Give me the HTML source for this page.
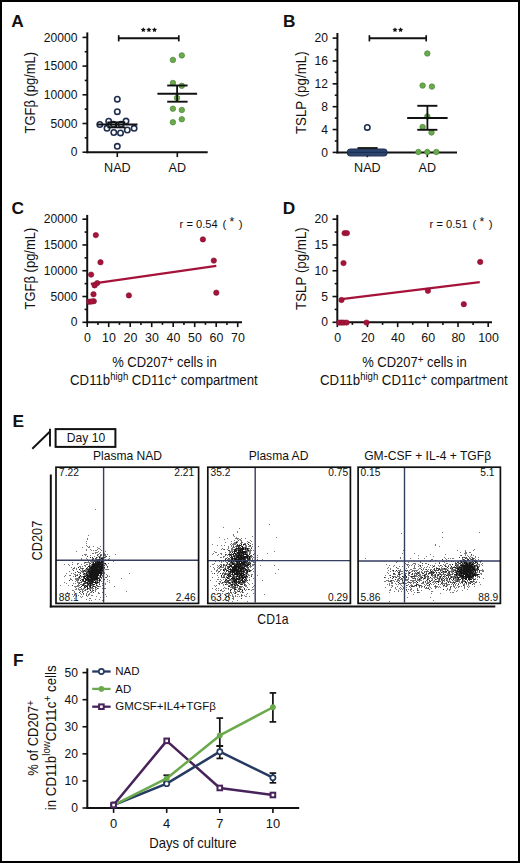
<!DOCTYPE html>
<html><head><meta charset="utf-8"><style>
html,body{margin:0;padding:0;background:#fff;}
body{width:520px;height:863px;overflow:hidden;}
svg{display:block;font-family:"Liberation Sans",sans-serif;}
</style></head><body>
<svg width="520" height="863" viewBox="0 0 520 863">
<rect x="0" y="0" width="520" height="863" fill="#fff"/>
<text transform="translate(11.30 27.20)" font-size="17.3" font-weight="bold" fill="#111">A</text>
<text transform="translate(283.00 27.10)" font-size="17.3" font-weight="bold" fill="#111">B</text>
<text transform="translate(11.50 213.60)" font-size="17.3" font-weight="bold" fill="#111">C</text>
<text transform="translate(282.80 213.60)" font-size="17.3" font-weight="bold" fill="#111">D</text>
<text transform="translate(12.60 427.20)" font-size="17.3" font-weight="bold" fill="#111">E</text>
<text transform="translate(13.00 666.30)" font-size="17.3" font-weight="bold" fill="#111">F</text>
<line x1="87.30" y1="32.40" x2="87.30" y2="153.20" stroke="#111" stroke-width="2.0"/>
<line x1="82.50" y1="152.20" x2="87.30" y2="152.20" stroke="#111" stroke-width="1.6"/>
<text transform="translate(77.50 156.36)" font-size="12.1" text-anchor="end" fill="#111">0</text>
<line x1="82.50" y1="123.50" x2="87.30" y2="123.50" stroke="#111" stroke-width="1.6"/>
<text transform="translate(77.50 127.66)" font-size="12.1" text-anchor="end" fill="#111">5000</text>
<line x1="82.50" y1="94.80" x2="87.30" y2="94.80" stroke="#111" stroke-width="1.6"/>
<text transform="translate(77.50 98.96)" font-size="12.1" text-anchor="end" fill="#111">10000</text>
<line x1="82.50" y1="66.10" x2="87.30" y2="66.10" stroke="#111" stroke-width="1.6"/>
<text transform="translate(77.50 70.26)" font-size="12.1" text-anchor="end" fill="#111">15000</text>
<line x1="82.50" y1="37.40" x2="87.30" y2="37.40" stroke="#111" stroke-width="1.6"/>
<text transform="translate(77.50 41.56)" font-size="12.1" text-anchor="end" fill="#111">20000</text>
<line x1="84.70" y1="137.85" x2="87.30" y2="137.85" stroke="#111" stroke-width="1.6"/>
<line x1="84.70" y1="109.15" x2="87.30" y2="109.15" stroke="#111" stroke-width="1.6"/>
<line x1="84.70" y1="80.45" x2="87.30" y2="80.45" stroke="#111" stroke-width="1.6"/>
<line x1="84.70" y1="51.75" x2="87.30" y2="51.75" stroke="#111" stroke-width="1.6"/>
<line x1="86.30" y1="152.20" x2="207.70" y2="152.20" stroke="#111" stroke-width="2.0"/>
<line x1="117.30" y1="152.20" x2="117.30" y2="157.00" stroke="#111" stroke-width="1.6"/>
<line x1="177.30" y1="152.20" x2="177.30" y2="157.00" stroke="#111" stroke-width="1.6"/>
<text transform="translate(117.40 172.20)" font-size="12.6" text-anchor="middle" fill="#111">NAD</text>
<text transform="translate(177.30 172.20)" font-size="12.6" text-anchor="middle" fill="#111">AD</text>
<text transform="translate(34.70 92.70) rotate(-90) scale(0.895 1)" font-size="14.5" text-anchor="middle" fill="#111">TGFβ (pg/mL)</text>
<line x1="118.70" y1="38.30" x2="178.80" y2="38.30" stroke="#111" stroke-width="1.9"/>
<line x1="118.70" y1="35.20" x2="118.70" y2="41.40" stroke="#111" stroke-width="1.7"/>
<line x1="178.80" y1="35.20" x2="178.80" y2="41.40" stroke="#111" stroke-width="1.7"/>
<polygon points="143.30,27.15 144.06,28.85 145.92,29.05 144.54,30.30 144.92,32.12 143.30,31.20 141.68,32.12 142.06,30.30 140.68,29.05 142.54,28.85" fill="#111"/>
<polygon points="148.90,27.15 149.66,28.85 151.52,29.05 150.14,30.30 150.52,32.12 148.90,31.20 147.28,32.12 147.66,30.30 146.28,29.05 148.14,28.85" fill="#111"/>
<polygon points="154.50,27.15 155.26,28.85 157.12,29.05 155.74,30.30 156.12,32.12 154.50,31.20 152.88,32.12 153.26,30.30 151.88,29.05 153.74,28.85" fill="#111"/>
<circle cx="117.30" cy="99.20" r="2.7" fill="#fff" stroke="#1f2e50" stroke-width="1.6"/>
<circle cx="117.30" cy="111.70" r="2.7" fill="#fff" stroke="#1f2e50" stroke-width="1.6"/>
<circle cx="108.70" cy="121.20" r="2.7" fill="#fff" stroke="#1f2e50" stroke-width="1.6"/>
<circle cx="126.00" cy="121.10" r="2.7" fill="#fff" stroke="#1f2e50" stroke-width="1.6"/>
<circle cx="99.80" cy="124.50" r="2.7" fill="#fff" stroke="#1f2e50" stroke-width="1.6"/>
<circle cx="107.00" cy="128.30" r="2.7" fill="#fff" stroke="#1f2e50" stroke-width="1.6"/>
<circle cx="113.80" cy="132.50" r="2.7" fill="#fff" stroke="#1f2e50" stroke-width="1.6"/>
<circle cx="120.50" cy="132.90" r="2.7" fill="#fff" stroke="#1f2e50" stroke-width="1.6"/>
<circle cx="127.30" cy="130.00" r="2.7" fill="#fff" stroke="#1f2e50" stroke-width="1.6"/>
<circle cx="134.10" cy="128.30" r="2.7" fill="#fff" stroke="#1f2e50" stroke-width="1.6"/>
<circle cx="117.30" cy="146.30" r="2.7" fill="#fff" stroke="#1f2e50" stroke-width="1.6"/>
<circle cx="113.50" cy="124.30" r="2.7" fill="#fff" stroke="#1f2e50" stroke-width="1.6"/>
<circle cx="121.00" cy="124.30" r="2.7" fill="#fff" stroke="#1f2e50" stroke-width="1.6"/>
<line x1="97.30" y1="124.50" x2="137.50" y2="124.50" stroke="#111" stroke-width="2.0"/>
<line x1="107.40" y1="122.30" x2="125.20" y2="122.30" stroke="#111" stroke-width="1.8"/>
<line x1="107.40" y1="127.40" x2="125.20" y2="127.40" stroke="#111" stroke-width="1.8"/>
<line x1="116.30" y1="122.30" x2="116.30" y2="127.40" stroke="#111" stroke-width="1.6"/>
<circle cx="172.90" cy="59.90" r="2.75" fill="#6aaa4c" stroke="#4a8535" stroke-width="0.7"/>
<circle cx="181.80" cy="55.40" r="2.75" fill="#6aaa4c" stroke="#4a8535" stroke-width="0.7"/>
<circle cx="172.90" cy="83.00" r="2.75" fill="#6aaa4c" stroke="#4a8535" stroke-width="0.7"/>
<circle cx="181.80" cy="85.80" r="2.75" fill="#6aaa4c" stroke="#4a8535" stroke-width="0.7"/>
<circle cx="177.00" cy="97.90" r="2.75" fill="#6aaa4c" stroke="#4a8535" stroke-width="0.7"/>
<circle cx="172.90" cy="108.70" r="2.75" fill="#6aaa4c" stroke="#4a8535" stroke-width="0.7"/>
<circle cx="181.80" cy="110.00" r="2.75" fill="#6aaa4c" stroke="#4a8535" stroke-width="0.7"/>
<circle cx="172.90" cy="122.30" r="2.75" fill="#6aaa4c" stroke="#4a8535" stroke-width="0.7"/>
<circle cx="181.80" cy="119.30" r="2.75" fill="#6aaa4c" stroke="#4a8535" stroke-width="0.7"/>
<line x1="157.40" y1="93.80" x2="197.10" y2="93.80" stroke="#111" stroke-width="2.0"/>
<line x1="167.20" y1="85.50" x2="187.60" y2="85.50" stroke="#111" stroke-width="1.9"/>
<line x1="167.20" y1="101.70" x2="187.60" y2="101.70" stroke="#111" stroke-width="1.9"/>
<line x1="177.10" y1="85.50" x2="177.10" y2="101.70" stroke="#111" stroke-width="1.8"/>
<line x1="337.40" y1="33.00" x2="337.40" y2="153.40" stroke="#111" stroke-width="2.0"/>
<line x1="332.60" y1="152.40" x2="337.40" y2="152.40" stroke="#111" stroke-width="1.6"/>
<text transform="translate(327.90 156.56)" font-size="12.1" text-anchor="end" fill="#111">0</text>
<line x1="332.60" y1="129.54" x2="337.40" y2="129.54" stroke="#111" stroke-width="1.6"/>
<text transform="translate(327.90 133.70)" font-size="12.1" text-anchor="end" fill="#111">4</text>
<line x1="332.60" y1="106.68" x2="337.40" y2="106.68" stroke="#111" stroke-width="1.6"/>
<text transform="translate(327.90 110.84)" font-size="12.1" text-anchor="end" fill="#111">8</text>
<line x1="332.60" y1="83.82" x2="337.40" y2="83.82" stroke="#111" stroke-width="1.6"/>
<text transform="translate(327.90 87.98)" font-size="12.1" text-anchor="end" fill="#111">12</text>
<line x1="332.60" y1="60.96" x2="337.40" y2="60.96" stroke="#111" stroke-width="1.6"/>
<text transform="translate(327.90 65.12)" font-size="12.1" text-anchor="end" fill="#111">16</text>
<line x1="332.60" y1="38.10" x2="337.40" y2="38.10" stroke="#111" stroke-width="1.6"/>
<text transform="translate(327.90 42.26)" font-size="12.1" text-anchor="end" fill="#111">20</text>
<line x1="334.80" y1="140.97" x2="337.40" y2="140.97" stroke="#111" stroke-width="1.6"/>
<line x1="334.80" y1="118.11" x2="337.40" y2="118.11" stroke="#111" stroke-width="1.6"/>
<line x1="334.80" y1="95.25" x2="337.40" y2="95.25" stroke="#111" stroke-width="1.6"/>
<line x1="334.80" y1="72.39" x2="337.40" y2="72.39" stroke="#111" stroke-width="1.6"/>
<line x1="334.80" y1="49.53" x2="337.40" y2="49.53" stroke="#111" stroke-width="1.6"/>
<line x1="336.40" y1="152.40" x2="457.00" y2="152.40" stroke="#111" stroke-width="2.0"/>
<line x1="367.30" y1="152.40" x2="367.30" y2="157.20" stroke="#111" stroke-width="1.6"/>
<line x1="427.30" y1="152.40" x2="427.30" y2="157.20" stroke="#111" stroke-width="1.6"/>
<text transform="translate(367.40 172.20)" font-size="12.6" text-anchor="middle" fill="#111">NAD</text>
<text transform="translate(427.30 172.20)" font-size="12.6" text-anchor="middle" fill="#111">AD</text>
<text transform="translate(305.60 92.75) rotate(-90) scale(0.920 1)" font-size="14.5" text-anchor="middle" fill="#111">TSLP (pg/mL)</text>
<line x1="369.40" y1="38.30" x2="426.20" y2="38.30" stroke="#111" stroke-width="1.9"/>
<line x1="369.40" y1="35.20" x2="369.40" y2="41.40" stroke="#111" stroke-width="1.7"/>
<line x1="426.20" y1="35.20" x2="426.20" y2="41.40" stroke="#111" stroke-width="1.7"/>
<polygon points="395.00,27.15 395.76,28.85 397.62,29.05 396.24,30.30 396.62,32.12 395.00,31.20 393.38,32.12 393.76,30.30 392.38,29.05 394.24,28.85" fill="#111"/>
<polygon points="400.60,27.15 401.36,28.85 403.22,29.05 401.84,30.30 402.22,32.12 400.60,31.20 398.98,32.12 399.36,30.30 397.98,29.05 399.84,28.85" fill="#111"/>
<circle cx="367.30" cy="127.40" r="2.7" fill="#fff" stroke="#1f2e50" stroke-width="1.6"/>
<rect x="347.4" y="149.0" width="39.6" height="6.8" rx="3.4" fill="#2c4470" stroke="#1f2e50" stroke-width="1.2"/>
<line x1="348.50" y1="152.40" x2="386.00" y2="152.40" stroke="#1b2f52" stroke-width="1.2"/>
<line x1="357.50" y1="148.00" x2="377.60" y2="148.00" stroke="#111" stroke-width="1.8"/>
<circle cx="427.30" cy="53.50" r="2.75" fill="#6aaa4c" stroke="#4a8535" stroke-width="0.7"/>
<circle cx="422.60" cy="85.60" r="2.75" fill="#6aaa4c" stroke="#4a8535" stroke-width="0.7"/>
<circle cx="431.90" cy="86.60" r="2.75" fill="#6aaa4c" stroke="#4a8535" stroke-width="0.7"/>
<circle cx="427.30" cy="116.50" r="2.75" fill="#6aaa4c" stroke="#4a8535" stroke-width="0.7"/>
<circle cx="422.60" cy="127.00" r="2.75" fill="#6aaa4c" stroke="#4a8535" stroke-width="0.7"/>
<circle cx="431.50" cy="132.50" r="2.75" fill="#6aaa4c" stroke="#4a8535" stroke-width="0.7"/>
<circle cx="418.40" cy="152.00" r="2.75" fill="#6aaa4c" stroke="#4a8535" stroke-width="0.7"/>
<circle cx="427.30" cy="152.00" r="2.75" fill="#6aaa4c" stroke="#4a8535" stroke-width="0.7"/>
<circle cx="436.30" cy="152.00" r="2.75" fill="#6aaa4c" stroke="#4a8535" stroke-width="0.7"/>
<line x1="407.20" y1="117.90" x2="447.60" y2="117.90" stroke="#111" stroke-width="2.0"/>
<line x1="417.30" y1="105.80" x2="437.40" y2="105.80" stroke="#111" stroke-width="1.9"/>
<line x1="417.30" y1="129.80" x2="437.40" y2="129.80" stroke="#111" stroke-width="1.9"/>
<line x1="427.40" y1="105.80" x2="427.40" y2="129.80" stroke="#111" stroke-width="1.8"/>
<line x1="87.20" y1="214.90" x2="87.20" y2="323.30" stroke="#111" stroke-width="2.0"/>
<line x1="82.40" y1="322.30" x2="87.20" y2="322.30" stroke="#111" stroke-width="1.6"/>
<text transform="translate(77.50 326.46)" font-size="12.1" text-anchor="end" fill="#111">0</text>
<line x1="82.40" y1="296.52" x2="87.20" y2="296.52" stroke="#111" stroke-width="1.6"/>
<text transform="translate(77.50 300.68)" font-size="12.1" text-anchor="end" fill="#111">5000</text>
<line x1="82.40" y1="270.74" x2="87.20" y2="270.74" stroke="#111" stroke-width="1.6"/>
<text transform="translate(77.50 274.90)" font-size="12.1" text-anchor="end" fill="#111">10000</text>
<line x1="82.40" y1="244.96" x2="87.20" y2="244.96" stroke="#111" stroke-width="1.6"/>
<text transform="translate(77.50 249.12)" font-size="12.1" text-anchor="end" fill="#111">15000</text>
<line x1="82.40" y1="219.18" x2="87.20" y2="219.18" stroke="#111" stroke-width="1.6"/>
<text transform="translate(77.50 223.34)" font-size="12.1" text-anchor="end" fill="#111">20000</text>
<line x1="84.60" y1="309.41" x2="87.20" y2="309.41" stroke="#111" stroke-width="1.6"/>
<line x1="84.60" y1="283.63" x2="87.20" y2="283.63" stroke="#111" stroke-width="1.6"/>
<line x1="84.60" y1="257.85" x2="87.20" y2="257.85" stroke="#111" stroke-width="1.6"/>
<line x1="84.60" y1="232.07" x2="87.20" y2="232.07" stroke="#111" stroke-width="1.6"/>
<line x1="86.20" y1="322.30" x2="242.00" y2="322.30" stroke="#111" stroke-width="2.0"/>
<line x1="87.20" y1="322.30" x2="87.20" y2="327.10" stroke="#111" stroke-width="1.6"/>
<text transform="translate(87.50 342.20)" font-size="12.4" text-anchor="middle" fill="#111">0</text>
<line x1="108.70" y1="322.30" x2="108.70" y2="327.10" stroke="#111" stroke-width="1.6"/>
<text transform="translate(109.00 342.20)" font-size="12.4" text-anchor="middle" fill="#111">10</text>
<line x1="130.20" y1="322.30" x2="130.20" y2="327.10" stroke="#111" stroke-width="1.6"/>
<text transform="translate(130.50 342.20)" font-size="12.4" text-anchor="middle" fill="#111">20</text>
<line x1="151.70" y1="322.30" x2="151.70" y2="327.10" stroke="#111" stroke-width="1.6"/>
<text transform="translate(152.00 342.20)" font-size="12.4" text-anchor="middle" fill="#111">30</text>
<line x1="173.20" y1="322.30" x2="173.20" y2="327.10" stroke="#111" stroke-width="1.6"/>
<text transform="translate(173.50 342.20)" font-size="12.4" text-anchor="middle" fill="#111">40</text>
<line x1="194.70" y1="322.30" x2="194.70" y2="327.10" stroke="#111" stroke-width="1.6"/>
<text transform="translate(195.00 342.20)" font-size="12.4" text-anchor="middle" fill="#111">50</text>
<line x1="216.20" y1="322.30" x2="216.20" y2="327.10" stroke="#111" stroke-width="1.6"/>
<text transform="translate(216.50 342.20)" font-size="12.4" text-anchor="middle" fill="#111">60</text>
<line x1="237.70" y1="322.30" x2="237.70" y2="327.10" stroke="#111" stroke-width="1.6"/>
<text transform="translate(238.00 342.20)" font-size="12.4" text-anchor="middle" fill="#111">70</text>
<line x1="97.95" y1="322.30" x2="97.95" y2="324.90" stroke="#111" stroke-width="1.6"/>
<line x1="119.45" y1="322.30" x2="119.45" y2="324.90" stroke="#111" stroke-width="1.6"/>
<line x1="140.95" y1="322.30" x2="140.95" y2="324.90" stroke="#111" stroke-width="1.6"/>
<line x1="162.45" y1="322.30" x2="162.45" y2="324.90" stroke="#111" stroke-width="1.6"/>
<line x1="183.95" y1="322.30" x2="183.95" y2="324.90" stroke="#111" stroke-width="1.6"/>
<line x1="205.45" y1="322.30" x2="205.45" y2="324.90" stroke="#111" stroke-width="1.6"/>
<line x1="226.95" y1="322.30" x2="226.95" y2="324.90" stroke="#111" stroke-width="1.6"/>
<text transform="translate(34.70 268.55) rotate(-90) scale(0.895 1)" font-size="14.5" text-anchor="middle" fill="#111">TGFβ (pg/mL)</text>
<text transform="translate(179.60 227.80) scale(0.970 1)" font-size="11.5" fill="#111">r = 0.54</text>
<text transform="translate(222.40 227.80)" font-size="11.5" fill="#111">(</text>
<text transform="translate(229.40 225.80)" font-size="12.2" fill="#111">*</text>
<text transform="translate(238.70 227.80)" font-size="11.5" fill="#111">)</text>
<line x1="90.80" y1="283.80" x2="216.30" y2="265.80" stroke="#a6133a" stroke-width="2.3"/>
<circle cx="95.80" cy="235.10" r="2.7" fill="#a6133a" stroke="#84102f" stroke-width="0.6"/>
<circle cx="100.50" cy="262.30" r="2.7" fill="#a6133a" stroke="#84102f" stroke-width="0.6"/>
<circle cx="91.10" cy="274.60" r="2.7" fill="#a6133a" stroke="#84102f" stroke-width="0.6"/>
<circle cx="97.20" cy="283.10" r="2.7" fill="#a6133a" stroke="#84102f" stroke-width="0.6"/>
<circle cx="94.60" cy="285.40" r="2.7" fill="#a6133a" stroke="#84102f" stroke-width="0.6"/>
<circle cx="93.50" cy="294.30" r="2.7" fill="#a6133a" stroke="#84102f" stroke-width="0.6"/>
<circle cx="128.90" cy="295.40" r="2.7" fill="#a6133a" stroke="#84102f" stroke-width="0.6"/>
<circle cx="89.20" cy="301.80" r="2.7" fill="#a6133a" stroke="#84102f" stroke-width="0.6"/>
<circle cx="93.80" cy="301.20" r="2.7" fill="#a6133a" stroke="#84102f" stroke-width="0.6"/>
<circle cx="91.50" cy="301.50" r="2.7" fill="#a6133a" stroke="#84102f" stroke-width="0.6"/>
<circle cx="202.90" cy="239.40" r="2.7" fill="#a6133a" stroke="#84102f" stroke-width="0.6"/>
<circle cx="213.80" cy="260.60" r="2.7" fill="#a6133a" stroke="#84102f" stroke-width="0.6"/>
<circle cx="216.30" cy="292.70" r="2.7" fill="#a6133a" stroke="#84102f" stroke-width="0.6"/>
<text transform="translate(164.40 367.30) scale(0.895 1)" font-size="14.5" text-anchor="middle" fill="#111">% CD207<tspan font-size="11" dy="-4.5">+</tspan><tspan dy="4.5"> cells in</tspan></text>
<text transform="translate(163.90 385.30) scale(0.910 1)" font-size="14.5" text-anchor="middle" fill="#111">CD11b<tspan font-size="10.5" dy="-5.5">high</tspan><tspan dy="5.5"> CD11c</tspan><tspan font-size="11" dy="-4.5">+</tspan><tspan dy="4.5"> compartment</tspan></text>
<line x1="337.30" y1="214.90" x2="337.30" y2="323.30" stroke="#111" stroke-width="2.0"/>
<line x1="332.50" y1="322.30" x2="337.30" y2="322.30" stroke="#111" stroke-width="1.6"/>
<text transform="translate(327.90 326.46)" font-size="12.1" text-anchor="end" fill="#111">0</text>
<line x1="332.50" y1="296.53" x2="337.30" y2="296.53" stroke="#111" stroke-width="1.6"/>
<text transform="translate(327.90 300.69)" font-size="12.1" text-anchor="end" fill="#111">5</text>
<line x1="332.50" y1="270.75" x2="337.30" y2="270.75" stroke="#111" stroke-width="1.6"/>
<text transform="translate(327.90 274.91)" font-size="12.1" text-anchor="end" fill="#111">10</text>
<line x1="332.50" y1="244.98" x2="337.30" y2="244.98" stroke="#111" stroke-width="1.6"/>
<text transform="translate(327.90 249.14)" font-size="12.1" text-anchor="end" fill="#111">15</text>
<line x1="332.50" y1="219.20" x2="337.30" y2="219.20" stroke="#111" stroke-width="1.6"/>
<text transform="translate(327.90 223.36)" font-size="12.1" text-anchor="end" fill="#111">20</text>
<line x1="334.70" y1="309.41" x2="337.30" y2="309.41" stroke="#111" stroke-width="1.6"/>
<line x1="334.70" y1="283.64" x2="337.30" y2="283.64" stroke="#111" stroke-width="1.6"/>
<line x1="334.70" y1="257.86" x2="337.30" y2="257.86" stroke="#111" stroke-width="1.6"/>
<line x1="334.70" y1="232.09" x2="337.30" y2="232.09" stroke="#111" stroke-width="1.6"/>
<line x1="336.30" y1="322.30" x2="492.00" y2="322.30" stroke="#111" stroke-width="2.0"/>
<line x1="337.30" y1="322.30" x2="337.30" y2="327.10" stroke="#111" stroke-width="1.6"/>
<text transform="translate(337.60 342.20)" font-size="12.4" text-anchor="middle" fill="#111">0</text>
<line x1="367.48" y1="322.30" x2="367.48" y2="327.10" stroke="#111" stroke-width="1.6"/>
<text transform="translate(367.78 342.20)" font-size="12.4" text-anchor="middle" fill="#111">20</text>
<line x1="397.66" y1="322.30" x2="397.66" y2="327.10" stroke="#111" stroke-width="1.6"/>
<text transform="translate(397.96 342.20)" font-size="12.4" text-anchor="middle" fill="#111">40</text>
<line x1="427.84" y1="322.30" x2="427.84" y2="327.10" stroke="#111" stroke-width="1.6"/>
<text transform="translate(428.14 342.20)" font-size="12.4" text-anchor="middle" fill="#111">60</text>
<line x1="458.02" y1="322.30" x2="458.02" y2="327.10" stroke="#111" stroke-width="1.6"/>
<text transform="translate(458.32 342.20)" font-size="12.4" text-anchor="middle" fill="#111">80</text>
<line x1="488.20" y1="322.30" x2="488.20" y2="327.10" stroke="#111" stroke-width="1.6"/>
<text transform="translate(488.50 342.20)" font-size="12.4" text-anchor="middle" fill="#111">100</text>
<line x1="352.39" y1="322.30" x2="352.39" y2="324.90" stroke="#111" stroke-width="1.6"/>
<line x1="382.57" y1="322.30" x2="382.57" y2="324.90" stroke="#111" stroke-width="1.6"/>
<line x1="412.75" y1="322.30" x2="412.75" y2="324.90" stroke="#111" stroke-width="1.6"/>
<line x1="442.93" y1="322.30" x2="442.93" y2="324.90" stroke="#111" stroke-width="1.6"/>
<line x1="473.11" y1="322.30" x2="473.11" y2="324.90" stroke="#111" stroke-width="1.6"/>
<text transform="translate(305.60 268.55) rotate(-90) scale(0.920 1)" font-size="14.5" text-anchor="middle" fill="#111">TSLP (pg/mL)</text>
<text transform="translate(429.60 227.80) scale(0.970 1)" font-size="11.5" fill="#111">r = 0.51</text>
<text transform="translate(472.40 227.80)" font-size="11.5" fill="#111">(</text>
<text transform="translate(479.60 225.80)" font-size="12.2" fill="#111">*</text>
<text transform="translate(488.70 227.80)" font-size="11.5" fill="#111">)</text>
<line x1="341.50" y1="299.20" x2="479.80" y2="282.10" stroke="#a6133a" stroke-width="2.3"/>
<circle cx="344.60" cy="233.10" r="2.7" fill="#a6133a" stroke="#84102f" stroke-width="0.6"/>
<circle cx="346.90" cy="233.10" r="2.7" fill="#a6133a" stroke="#84102f" stroke-width="0.6"/>
<circle cx="343.50" cy="263.10" r="2.7" fill="#a6133a" stroke="#84102f" stroke-width="0.6"/>
<circle cx="341.50" cy="300.00" r="2.7" fill="#a6133a" stroke="#84102f" stroke-width="0.6"/>
<circle cx="339.20" cy="322.60" r="2.7" fill="#a6133a" stroke="#84102f" stroke-width="0.6"/>
<circle cx="341.50" cy="322.60" r="2.7" fill="#a6133a" stroke="#84102f" stroke-width="0.6"/>
<circle cx="343.80" cy="322.60" r="2.7" fill="#a6133a" stroke="#84102f" stroke-width="0.6"/>
<circle cx="346.60" cy="322.60" r="2.7" fill="#a6133a" stroke="#84102f" stroke-width="0.6"/>
<circle cx="366.50" cy="322.60" r="2.7" fill="#a6133a" stroke="#84102f" stroke-width="0.6"/>
<circle cx="427.90" cy="290.80" r="2.7" fill="#a6133a" stroke="#84102f" stroke-width="0.6"/>
<circle cx="463.80" cy="304.20" r="2.7" fill="#a6133a" stroke="#84102f" stroke-width="0.6"/>
<circle cx="480.20" cy="261.90" r="2.7" fill="#a6133a" stroke="#84102f" stroke-width="0.6"/>
<text transform="translate(414.40 367.30) scale(0.895 1)" font-size="14.5" text-anchor="middle" fill="#111">% CD207<tspan font-size="11" dy="-4.5">+</tspan><tspan dy="4.5"> cells in</tspan></text>
<text transform="translate(413.90 385.30) scale(0.910 1)" font-size="14.5" text-anchor="middle" fill="#111">CD11b<tspan font-size="10.5" dy="-5.5">high</tspan><tspan dy="5.5"> CD11c</tspan><tspan font-size="11" dy="-4.5">+</tspan><tspan dy="4.5"> compartment</tspan></text>
<line x1="32.30" y1="448.80" x2="50.00" y2="431.50" stroke="#111" stroke-width="1.9"/>
<line x1="50.00" y1="428.70" x2="50.00" y2="446.40" stroke="#111" stroke-width="1.9"/>
<rect x="55.6" y="429.1" width="59.8" height="17.8" fill="none" stroke="#111" stroke-width="2"/>
<text transform="translate(66.80 441.50)" font-size="12.1" fill="#111">Day 10</text>
<line x1="50.80" y1="474.50" x2="50.80" y2="607.40" stroke="#111" stroke-width="2.0"/>
<line x1="49.80" y1="606.40" x2="495.30" y2="606.40" stroke="#111" stroke-width="2.0"/>
<text transform="translate(42.00 540.60) rotate(-90) scale(0.880 1)" font-size="14.5" text-anchor="middle" fill="#111">CD207</text>
<text transform="translate(272.90 623.70) scale(0.840 1)" font-size="14.5" text-anchor="middle" fill="#111">CD1a</text>
<path d="M105 560h1v1h-1zM106 565h1v1h-1zM84 574h1v1h-1zM86 578h1v1h-1zM88 574h1v1h-1zM105 564h1v1h-1zM100 561h1v1h-1zM104 568h1v1h-1zM86 585h1v1h-1zM106 569h1v1h-1zM92 562h1v1h-1zM102 572h1v1h-1zM87 581h1v1h-1zM92 563h1v1h-1zM84 575h1v1h-1zM105 556h1v1h-1zM83 572h1v1h-1zM97 559h1v1h-1zM100 558h1v1h-1zM101 559h1v1h-1zM96 580h1v1h-1zM91 565h1v1h-1zM89 584h1v1h-1zM90 588h1v1h-1zM104 573h1v1h-1zM87 559h1v1h-1zM103 559h1v1h-1zM104 555h1v1h-1zM99 556h1v1h-1zM104 572h1v1h-1zM91 562h1v1h-1zM98 554h1v1h-1zM85 574h1v1h-1zM89 564h1v1h-1zM90 566h1v1h-1zM101 575h1v1h-1zM93 561h1v1h-1zM109 558h1v1h-1zM101 554h1v1h-1zM103 573h1v1h-1zM92 553h1v1h-1zM98 556h1v1h-1zM86 576h1v1h-1zM98 580h1v1h-1zM107 567h1v1h-1zM98 577h1v1h-1zM103 557h1v1h-1zM97 557h1v1h-1zM107 569h1v1h-1zM90 565h1v1h-1zM103 556h1v1h-1zM99 558h1v1h-1zM88 585h1v1h-1zM100 557h1v1h-1zM86 569h1v1h-1zM102 576h1v1h-1zM84 582h1v1h-1zM88 582h1v1h-1zM94 556h1v1h-1zM103 555h1v1h-1zM85 569h1v1h-1zM92 561h1v1h-1zM103 571h1v1h-1zM107 554h1v1h-1zM86 570h1v1h-1zM89 587h1v1h-1zM103 560h1v1h-1zM109 556h1v1h-1zM86 571h1v1h-1zM96 558h1v1h-1zM108 569h1v1h-1zM104 553h1v1h-1zM104 560h1v1h-1zM105 557h1v1h-1zM95 559h1v1h-1zM89 588h1v1h-1zM105 555h1v1h-1zM89 578h1v1h-1zM101 555h1v1h-1zM99 577h1v1h-1zM104 554h1v1h-1zM108 563h1v1h-1zM105 554h1v1h-1zM92 560h1v1h-1zM101 550h1v1h-1zM105 559h1v1h-1zM99 575h1v1h-1zM99 576h1v1h-1zM100 556h1v1h-1zM103 558h1v1h-1zM92 585h1v1h-1zM101 581h1v1h-1zM76 595h1v1h-1zM93 588h1v1h-1zM89 600h1v1h-1zM82 591h1v1h-1zM81 577h1v1h-1zM78 582h1v1h-1zM79 572h1v1h-1zM104 588h1v1h-1zM67 592h1v1h-1zM77 574h1v1h-1zM101 578h1v1h-1zM79 589h1v1h-1zM74 567h1v1h-1zM95 589h1v1h-1zM100 597h1v1h-1zM84 585h1v1h-1zM68 585h1v1h-1zM85 570h1v1h-1zM97 585h1v1h-1zM100 586h1v1h-1zM69 593h1v1h-1zM75 574h1v1h-1zM86 583h1v1h-1zM86 593h1v1h-1zM92 590h1v1h-1zM96 581h1v1h-1zM102 585h1v1h-1zM95 588h1v1h-1zM74 595h1v1h-1zM71 579h1v1h-1zM90 592h1v1h-1zM76 596h1v1h-1zM91 587h1v1h-1zM80 578h1v1h-1zM72 594h1v1h-1zM91 564h1v1h-1zM82 576h1v1h-1zM92 586h1v1h-1zM90 589h1v1h-1zM87 568h1v1h-1zM102 575h1v1h-1zM84 590h1v1h-1zM84 562h1v1h-1zM68 564h1v1h-1zM74 598h1v1h-1zM84 560h1v1h-1zM87 592h1v1h-1zM91 584h1v1h-1zM77 580h1v1h-1zM96 589h1v1h-1zM74 592h1v1h-1zM92 595h1v1h-1zM80 582h1v1h-1zM77 600h1v1h-1zM89 593h1v1h-1zM69 575h1v1h-1zM85 566h1v1h-1zM79 585h1v1h-1zM82 584h1v1h-1zM76 588h1v1h-1zM89 563h1v1h-1zM86 562h1v1h-1zM75 589h1v1h-1zM88 561h1v1h-1zM91 592h1v1h-1zM79 590h1v1h-1zM69 571h1v1h-1zM85 554h1v1h-1zM107 575h1v1h-1zM84 563h1v1h-1zM77 564h1v1h-1zM86 564h1v1h-1zM114 586h1v1h-1zM82 570h1v1h-1zM83 568h1v1h-1zM74 574h1v1h-1zM82 569h1v1h-1zM81 576h1v1h-1zM88 595h1v1h-1zM66 573h1v1h-1zM84 571h1v1h-1zM73 583h1v1h-1zM88 591h1v1h-1zM103 568h1v1h-1zM95 580h1v1h-1zM76 586h1v1h-1zM78 578h1v1h-1zM85 565h1v1h-1zM76 575h1v1h-1zM97 583h1v1h-1zM64 576h1v1h-1zM75 587h1v1h-1zM82 581h1v1h-1zM99 586h1v1h-1zM99 582h1v1h-1zM105 583h1v1h-1zM79 587h1v1h-1zM75 579h1v1h-1zM100 579h1v1h-1zM85 589h1v1h-1zM74 586h1v1h-1zM105 594h1v1h-1zM102 592h1v1h-1zM93 585h1v1h-1zM84 584h1v1h-1zM65 575h1v1h-1zM109 582h1v1h-1zM82 566h1v1h-1zM71 573h1v1h-1zM80 572h1v1h-1zM88 568h1v1h-1zM95 590h1v1h-1zM77 578h1v1h-1zM79 574h1v1h-1zM102 588h1v1h-1zM79 582h1v1h-1zM81 579h1v1h-1zM99 583h1v1h-1zM107 581h1v1h-1zM89 598h1v1h-1zM78 563h1v1h-1zM75 578h1v1h-1zM78 589h1v1h-1zM73 590h1v1h-1zM80 589h1v1h-1zM67 593h1v1h-1zM78 586h1v1h-1zM80 568h1v1h-1zM87 570h1v1h-1zM81 581h1v1h-1zM106 574h1v1h-1zM74 591h1v1h-1zM70 579h1v1h-1zM72 569h1v1h-1zM78 584h1v1h-1zM64 582h1v1h-1zM89 589h1v1h-1zM75 581h1v1h-1zM102 583h1v1h-1zM77 581h1v1h-1zM77 579h1v1h-1zM98 588h1v1h-1zM64 564h1v1h-1zM81 594h1v1h-1zM82 571h1v1h-1zM81 597h1v1h-1zM82 590h1v1h-1zM73 596h1v1h-1zM96 596h1v1h-1zM76 589h1v1h-1zM99 599h1v1h-1zM70 575h1v1h-1zM88 562h1v1h-1zM73 576h1v1h-1zM83 570h1v1h-1zM102 600h1v1h-1zM95 586h1v1h-1zM71 567h1v1h-1zM76 578h1v1h-1zM76 579h1v1h-1zM96 584h1v1h-1zM81 568h1v1h-1zM83 573h1v1h-1zM105 588h1v1h-1zM72 564h1v1h-1zM105 569h1v1h-1zM82 589h1v1h-1zM80 596h1v1h-1zM72 580h1v1h-1zM75 586h1v1h-1zM85 573h1v1h-1zM98 593h1v1h-1zM90 598h1v1h-1zM91 595h1v1h-1zM75 575h1v1h-1zM92 588h1v1h-1zM86 599h1v1h-1zM98 592h1v1h-1zM90 561h1v1h-1zM83 588h1v1h-1zM91 588h1v1h-1zM103 580h1v1h-1zM88 594h1v1h-1zM81 558h1v1h-1zM103 588h1v1h-1zM77 582h1v1h-1zM78 583h1v1h-1zM73 573h1v1h-1zM78 595h1v1h-1zM109 576h1v1h-1zM85 586h1v1h-1zM77 563h1v1h-1zM76 580h1v1h-1zM85 575h1v1h-1zM83 594h1v1h-1zM79 566h1v1h-1zM72 590h1v1h-1zM77 585h1v1h-1zM95 599h1v1h-1zM81 564h1v1h-1zM89 594h1v1h-1zM76 569h1v1h-1zM80 584h1v1h-1zM105 577h1v1h-1zM87 596h1v1h-1zM69 565h1v1h-1zM93 559h1v1h-1zM80 570h1v1h-1zM87 564h1v1h-1zM95 591h1v1h-1zM66 583h1v1h-1zM79 578h1v1h-1zM70 578h1v1h-1zM77 586h1v1h-1zM78 577h1v1h-1zM97 586h1v1h-1zM82 596h1v1h-1zM86 594h1v1h-1zM80 566h1v1h-1zM92 591h1v1h-1zM81 584h1v1h-1zM107 576h1v1h-1zM80 576h1v1h-1zM76 568h1v1h-1zM99 593h1v1h-1zM78 588h1v1h-1zM81 588h1v1h-1zM86 589h1v1h-1zM92 589h1v1h-1zM84 565h1v1h-1zM87 573h1v1h-1zM75 583h1v1h-1zM80 593h1v1h-1zM83 589h1v1h-1zM74 568h1v1h-1zM78 580h1v1h-1zM83 591h1v1h-1zM87 591h1v1h-1zM82 572h1v1h-1zM78 585h1v1h-1zM91 600h1v1h-1zM83 578h1v1h-1zM81 589h1v1h-1zM95 550h1v1h-1zM86 550h1v1h-1zM86 558h1v1h-1zM86 545h1v1h-1zM90 549h1v1h-1zM88 547h1v1h-1zM97 552h1v1h-1zM99 553h1v1h-1zM87 539h1v1h-1zM82 555h1v1h-1zM82 547h1v1h-1zM98 551h1v1h-1zM98 548h1v1h-1zM100 552h1v1h-1zM86 541h1v1h-1zM91 561h1v1h-1zM97 549h1v1h-1zM89 562h1v1h-1zM90 555h1v1h-1zM85 560h1v1h-1zM96 552h1v1h-1zM87 546h1v1h-1zM87 538h1v1h-1zM93 550h1v1h-1zM81 559h1v1h-1zM86 543h1v1h-1zM96 550h1v1h-1zM87 562h1v1h-1zM89 546h1v1h-1zM91 560h1v1h-1zM97 554h1v1h-1zM95 553h1v1h-1zM100 546h1v1h-1zM99 548h1v1h-1zM93 553h1v1h-1zM86 549h1v1h-1zM88 535h1v1h-1zM100 549h1v1h-1zM84 554h1v1h-1zM100 554h1v1h-1zM95 552h1v1h-1zM93 546h1v1h-1zM97 547h1v1h-1zM101 557h1v1h-1zM91 550h1v1h-1zM115 554h1v1h-1zM60 585h1v1h-1zM84 588h1v1h-1zM102 557h1v1h-1zM91 591h1v1h-1zM106 596h1v1h-1zM89 547h1v1h-1zM126 591h1v1h-1zM80 567h1v1h-1zM85 555h1v1h-1zM105 584h1v1h-1zM96 587h1v1h-1zM105 551h1v1h-1zM72 562h1v1h-1zM92 558h1v1h-1zM86 554h1v1h-1zM121 578h1v1h-1zM106 564h1v1h-1zM113 561h1v1h-1zM109 580h1v1h-1zM107 579h1v1h-1zM113 560h1v1h-1zM129 573h1v1h-1zM95 509h1v1h-1zM76 551h1v1h-1zM250 564h1v1h-1zM246 545h1v1h-1zM234 543h1v1h-1zM239 547h1v1h-1zM230 564h1v1h-1zM235 563h1v1h-1zM246 558h1v1h-1zM229 556h1v1h-1zM236 545h1v1h-1zM228 548h1v1h-1zM240 540h1v1h-1zM250 553h1v1h-1zM249 552h1v1h-1zM237 532h1v1h-1zM244 548h1v1h-1zM232 549h1v1h-1zM236 547h1v1h-1zM249 546h1v1h-1zM245 545h1v1h-1zM250 558h1v1h-1zM253 565h1v1h-1zM244 553h1v1h-1zM246 550h1v1h-1zM241 538h1v1h-1zM250 559h1v1h-1zM248 551h1v1h-1zM243 560h1v1h-1zM252 564h1v1h-1zM251 557h1v1h-1zM235 543h1v1h-1zM233 559h1v1h-1zM237 538h1v1h-1zM244 549h1v1h-1zM250 557h1v1h-1zM237 550h1v1h-1zM253 557h1v1h-1zM247 551h1v1h-1zM246 546h1v1h-1zM233 535h1v1h-1zM246 547h1v1h-1zM230 544h1v1h-1zM249 542h1v1h-1zM224 539h1v1h-1zM231 551h1v1h-1zM236 543h1v1h-1zM231 543h1v1h-1zM258 546h1v1h-1zM231 550h1v1h-1zM239 544h1v1h-1zM236 552h1v1h-1zM251 547h1v1h-1zM235 544h1v1h-1zM253 550h1v1h-1zM241 543h1v1h-1zM247 552h1v1h-1zM238 538h1v1h-1zM250 546h1v1h-1zM250 562h1v1h-1zM250 549h1v1h-1zM240 539h1v1h-1zM247 543h1v1h-1zM235 546h1v1h-1zM232 548h1v1h-1zM227 557h1v1h-1zM234 542h1v1h-1zM243 545h1v1h-1zM232 544h1v1h-1zM237 539h1v1h-1zM249 545h1v1h-1zM233 543h1v1h-1zM251 541h1v1h-1zM231 548h1v1h-1zM247 560h1v1h-1zM237 541h1v1h-1zM232 547h1v1h-1zM245 546h1v1h-1zM250 550h1v1h-1zM250 551h1v1h-1zM229 552h1v1h-1zM237 554h1v1h-1zM231 549h1v1h-1zM244 543h1v1h-1zM244 547h1v1h-1zM252 561h1v1h-1zM249 569h1v1h-1zM227 559h1v1h-1zM257 559h1v1h-1zM247 553h1v1h-1zM245 543h1v1h-1zM235 557h1v1h-1zM251 550h1v1h-1zM249 563h1v1h-1zM233 545h1v1h-1zM242 572h1v1h-1zM240 543h1v1h-1zM250 552h1v1h-1zM242 542h1v1h-1zM235 538h1v1h-1zM233 551h1v1h-1zM252 544h1v1h-1zM234 540h1v1h-1zM252 556h1v1h-1zM231 546h1v1h-1zM233 534h1v1h-1zM247 541h1v1h-1zM241 541h1v1h-1zM239 539h1v1h-1zM232 561h1v1h-1zM241 545h1v1h-1zM241 540h1v1h-1zM229 551h1v1h-1zM235 542h1v1h-1zM236 553h1v1h-1zM252 559h1v1h-1zM245 550h1v1h-1zM249 551h1v1h-1zM250 540h1v1h-1zM236 537h1v1h-1zM234 547h1v1h-1zM250 543h1v1h-1zM253 561h1v1h-1zM234 562h1v1h-1zM252 565h1v1h-1zM250 555h1v1h-1zM229 553h1v1h-1zM249 553h1v1h-1zM251 560h1v1h-1zM235 548h1v1h-1zM235 556h1v1h-1zM242 561h1v1h-1zM252 546h1v1h-1zM231 545h1v1h-1zM252 558h1v1h-1zM237 549h1v1h-1zM224 556h1v1h-1zM251 556h1v1h-1zM246 564h1v1h-1zM254 553h1v1h-1zM233 587h1v1h-1zM253 586h1v1h-1zM247 569h1v1h-1zM242 583h1v1h-1zM234 590h1v1h-1zM225 555h1v1h-1zM245 573h1v1h-1zM234 583h1v1h-1zM231 579h1v1h-1zM252 589h1v1h-1zM248 570h1v1h-1zM230 589h1v1h-1zM228 569h1v1h-1zM240 587h1v1h-1zM254 564h1v1h-1zM247 593h1v1h-1zM231 576h1v1h-1zM236 585h1v1h-1zM235 596h1v1h-1zM236 592h1v1h-1zM232 595h1v1h-1zM249 584h1v1h-1zM233 562h1v1h-1zM235 577h1v1h-1zM251 590h1v1h-1zM251 570h1v1h-1zM231 581h1v1h-1zM232 601h1v1h-1zM231 587h1v1h-1zM230 561h1v1h-1zM240 579h1v1h-1zM223 591h1v1h-1zM247 573h1v1h-1zM243 580h1v1h-1zM226 584h1v1h-1zM232 576h1v1h-1zM225 581h1v1h-1zM234 591h1v1h-1zM247 577h1v1h-1zM235 584h1v1h-1zM240 583h1v1h-1zM249 579h1v1h-1zM230 585h1v1h-1zM231 553h1v1h-1zM245 590h1v1h-1zM227 562h1v1h-1zM234 561h1v1h-1zM236 587h1v1h-1zM244 575h1v1h-1zM229 559h1v1h-1zM232 566h1v1h-1zM225 561h1v1h-1zM238 588h1v1h-1zM241 583h1v1h-1zM245 574h1v1h-1zM222 583h1v1h-1zM231 580h1v1h-1zM228 595h1v1h-1zM247 587h1v1h-1zM228 572h1v1h-1zM249 550h1v1h-1zM225 558h1v1h-1zM245 582h1v1h-1zM230 580h1v1h-1zM252 583h1v1h-1zM247 562h1v1h-1zM235 578h1v1h-1zM240 588h1v1h-1zM228 564h1v1h-1zM235 576h1v1h-1zM248 575h1v1h-1zM238 580h1v1h-1zM237 590h1v1h-1zM224 573h1v1h-1zM223 582h1v1h-1zM224 576h1v1h-1zM231 560h1v1h-1zM233 582h1v1h-1zM225 565h1v1h-1zM247 574h1v1h-1zM245 581h1v1h-1zM237 558h1v1h-1zM231 567h1v1h-1zM255 560h1v1h-1zM246 574h1v1h-1zM237 600h1v1h-1zM246 553h1v1h-1zM236 575h1v1h-1zM226 569h1v1h-1zM251 561h1v1h-1zM239 569h1v1h-1zM227 574h1v1h-1zM242 589h1v1h-1zM235 588h1v1h-1zM249 589h1v1h-1zM228 577h1v1h-1zM231 564h1v1h-1zM248 546h1v1h-1zM235 572h1v1h-1zM224 569h1v1h-1zM230 574h1v1h-1zM246 577h1v1h-1zM247 582h1v1h-1zM228 601h1v1h-1zM250 571h1v1h-1zM243 583h1v1h-1zM251 574h1v1h-1zM246 594h1v1h-1zM248 557h1v1h-1zM248 574h1v1h-1zM238 594h1v1h-1zM240 576h1v1h-1zM237 581h1v1h-1zM241 596h1v1h-1zM229 578h1v1h-1zM246 581h1v1h-1zM233 584h1v1h-1zM251 566h1v1h-1zM249 577h1v1h-1zM231 582h1v1h-1zM229 563h1v1h-1zM232 583h1v1h-1zM233 547h1v1h-1zM242 570h1v1h-1zM241 578h1v1h-1zM254 585h1v1h-1zM233 597h1v1h-1zM245 563h1v1h-1zM253 578h1v1h-1zM245 572h1v1h-1zM252 574h1v1h-1zM249 575h1v1h-1zM247 568h1v1h-1zM239 590h1v1h-1zM231 541h1v1h-1zM242 574h1v1h-1zM223 573h1v1h-1zM229 572h1v1h-1zM244 580h1v1h-1zM249 548h1v1h-1zM246 585h1v1h-1zM245 560h1v1h-1zM246 586h1v1h-1zM245 585h1v1h-1zM243 566h1v1h-1zM250 566h1v1h-1zM245 575h1v1h-1zM237 587h1v1h-1zM245 579h1v1h-1zM230 563h1v1h-1zM246 567h1v1h-1zM244 569h1v1h-1zM228 570h1v1h-1zM249 566h1v1h-1zM232 580h1v1h-1zM213 553h1v1h-1zM218 590h1v1h-1zM230 591h1v1h-1zM223 572h1v1h-1zM227 582h1v1h-1zM238 589h1v1h-1zM230 551h1v1h-1zM217 570h1v1h-1zM242 554h1v1h-1zM214 569h1v1h-1zM236 541h1v1h-1zM217 569h1v1h-1zM229 597h1v1h-1zM211 571h1v1h-1zM221 549h1v1h-1zM253 562h1v1h-1zM243 587h1v1h-1zM222 567h1v1h-1zM225 560h1v1h-1zM233 588h1v1h-1zM218 579h1v1h-1zM233 574h1v1h-1zM222 574h1v1h-1zM219 561h1v1h-1zM223 557h1v1h-1zM228 592h1v1h-1zM220 579h1v1h-1zM232 598h1v1h-1zM226 597h1v1h-1zM220 570h1v1h-1zM236 538h1v1h-1zM224 571h1v1h-1zM229 577h1v1h-1zM217 560h1v1h-1zM249 561h1v1h-1zM234 593h1v1h-1zM221 545h1v1h-1zM242 595h1v1h-1zM225 542h1v1h-1zM241 591h1v1h-1zM224 590h1v1h-1zM221 569h1v1h-1zM232 586h1v1h-1zM224 582h1v1h-1zM228 546h1v1h-1zM229 593h1v1h-1zM221 553h1v1h-1zM226 581h1v1h-1zM233 544h1v1h-1zM217 579h1v1h-1zM237 594h1v1h-1zM223 576h1v1h-1zM220 564h1v1h-1zM247 601h1v1h-1zM214 585h1v1h-1zM216 585h1v1h-1zM230 582h1v1h-1zM217 567h1v1h-1zM237 586h1v1h-1zM221 566h1v1h-1zM239 589h1v1h-1zM225 579h1v1h-1zM245 584h1v1h-1zM226 583h1v1h-1zM224 575h1v1h-1zM225 595h1v1h-1zM257 557h1v1h-1zM243 576h1v1h-1zM257 575h1v1h-1zM241 587h1v1h-1zM234 575h1v1h-1zM217 545h1v1h-1zM210 566h1v1h-1zM216 588h1v1h-1zM224 565h1v1h-1zM228 583h1v1h-1zM212 573h1v1h-1zM228 559h1v1h-1zM237 568h1v1h-1zM233 599h1v1h-1zM225 567h1v1h-1zM224 564h1v1h-1zM244 583h1v1h-1zM226 576h1v1h-1zM219 565h1v1h-1zM228 596h1v1h-1zM223 575h1v1h-1zM219 584h1v1h-1zM232 556h1v1h-1zM227 593h1v1h-1zM225 572h1v1h-1zM213 567h1v1h-1zM223 560h1v1h-1zM245 538h1v1h-1zM214 568h1v1h-1zM228 589h1v1h-1zM220 582h1v1h-1zM238 575h1v1h-1zM248 568h1v1h-1zM221 583h1v1h-1zM255 599h1v1h-1zM214 593h1v1h-1zM233 596h1v1h-1zM213 564h1v1h-1zM221 557h1v1h-1zM229 555h1v1h-1zM216 552h1v1h-1zM246 580h1v1h-1zM218 566h1v1h-1zM217 573h1v1h-1zM229 579h1v1h-1zM227 555h1v1h-1zM246 589h1v1h-1zM226 573h1v1h-1zM232 588h1v1h-1zM214 563h1v1h-1zM230 587h1v1h-1zM215 601h1v1h-1zM216 581h1v1h-1zM222 548h1v1h-1zM240 572h1v1h-1zM241 589h1v1h-1zM224 587h1v1h-1zM228 573h1v1h-1zM214 551h1v1h-1zM228 547h1v1h-1zM220 567h1v1h-1zM221 580h1v1h-1zM233 592h1v1h-1zM246 596h1v1h-1zM231 563h1v1h-1zM225 578h1v1h-1zM219 568h1v1h-1zM210 580h1v1h-1zM212 564h1v1h-1zM217 555h1v1h-1zM235 591h1v1h-1zM220 560h1v1h-1zM224 594h1v1h-1zM226 554h1v1h-1zM235 595h1v1h-1zM246 549h1v1h-1zM237 591h1v1h-1zM241 594h1v1h-1zM217 575h1v1h-1zM229 558h1v1h-1zM253 571h1v1h-1zM215 561h1v1h-1zM232 596h1v1h-1zM220 557h1v1h-1zM223 567h1v1h-1zM233 583h1v1h-1zM227 573h1v1h-1zM218 571h1v1h-1zM223 561h1v1h-1zM230 595h1v1h-1zM218 583h1v1h-1zM239 587h1v1h-1zM229 565h1v1h-1zM224 568h1v1h-1zM250 567h1v1h-1zM233 598h1v1h-1zM223 579h1v1h-1zM231 593h1v1h-1zM216 571h1v1h-1zM235 586h1v1h-1zM230 560h1v1h-1zM219 567h1v1h-1zM253 589h1v1h-1zM223 556h1v1h-1zM224 545h1v1h-1zM226 562h1v1h-1zM218 588h1v1h-1zM215 589h1v1h-1zM218 577h1v1h-1zM217 565h1v1h-1zM241 586h1v1h-1zM227 538h1v1h-1zM249 596h1v1h-1zM228 597h1v1h-1zM218 554h1v1h-1zM220 569h1v1h-1zM221 590h1v1h-1zM221 577h1v1h-1zM237 596h1v1h-1zM221 562h1v1h-1zM249 580h1v1h-1zM248 571h1v1h-1zM230 584h1v1h-1zM225 552h1v1h-1zM233 549h1v1h-1zM243 592h1v1h-1zM239 580h1v1h-1zM231 592h1v1h-1zM222 577h1v1h-1zM223 584h1v1h-1zM215 552h1v1h-1zM221 564h1v1h-1zM245 586h1v1h-1zM212 577h1v1h-1zM221 567h1v1h-1zM225 588h1v1h-1zM227 549h1v1h-1zM228 585h1v1h-1zM222 591h1v1h-1zM234 544h1v1h-1zM212 554h1v1h-1zM220 581h1v1h-1zM222 593h1v1h-1zM248 583h1v1h-1zM218 568h1v1h-1zM226 574h1v1h-1zM216 590h1v1h-1zM227 584h1v1h-1zM229 585h1v1h-1zM245 596h1v1h-1zM215 586h1v1h-1zM221 561h1v1h-1zM220 553h1v1h-1zM226 580h1v1h-1zM234 586h1v1h-1zM239 596h1v1h-1zM251 575h1v1h-1zM219 581h1v1h-1zM232 575h1v1h-1zM227 564h1v1h-1zM230 559h1v1h-1zM218 572h1v1h-1zM240 592h1v1h-1zM223 585h1v1h-1zM227 567h1v1h-1zM232 594h1v1h-1zM253 593h1v1h-1zM231 586h1v1h-1zM216 570h1v1h-1zM225 566h1v1h-1zM220 595h1v1h-1zM232 550h1v1h-1zM212 544h1v1h-1zM219 537h1v1h-1zM223 566h1v1h-1zM212 588h1v1h-1zM242 591h1v1h-1zM244 595h1v1h-1zM252 587h1v1h-1zM232 551h1v1h-1zM220 597h1v1h-1zM224 599h1v1h-1zM236 589h1v1h-1zM223 549h1v1h-1zM226 564h1v1h-1zM223 588h1v1h-1zM221 589h1v1h-1zM252 569h1v1h-1zM257 555h1v1h-1zM226 588h1v1h-1zM276 537h1v1h-1zM262 559h1v1h-1zM239 528h1v1h-1zM274 551h1v1h-1zM260 565h1v1h-1zM275 573h1v1h-1zM234 536h1v1h-1zM278 569h1v1h-1zM253 568h1v1h-1zM221 554h1v1h-1zM264 594h1v1h-1zM237 542h1v1h-1zM223 527h1v1h-1zM262 580h1v1h-1zM248 549h1v1h-1zM274 565h1v1h-1zM253 564h1v1h-1zM242 586h1v1h-1zM252 536h1v1h-1zM269 524h1v1h-1zM237 531h1v1h-1zM267 553h1v1h-1zM254 562h1v1h-1zM473 563h1v1h-1zM465 553h1v1h-1zM472 581h1v1h-1zM454 575h1v1h-1zM466 552h1v1h-1zM474 586h1v1h-1zM473 577h1v1h-1zM459 576h1v1h-1zM470 561h1v1h-1zM475 563h1v1h-1zM477 577h1v1h-1zM475 556h1v1h-1zM477 576h1v1h-1zM450 567h1v1h-1zM474 558h1v1h-1zM459 582h1v1h-1zM474 560h1v1h-1zM474 583h1v1h-1zM475 566h1v1h-1zM478 559h1v1h-1zM468 585h1v1h-1zM474 584h1v1h-1zM476 568h1v1h-1zM456 577h1v1h-1zM465 554h1v1h-1zM460 566h1v1h-1zM476 582h1v1h-1zM477 579h1v1h-1zM466 558h1v1h-1zM470 556h1v1h-1zM477 564h1v1h-1zM467 589h1v1h-1zM464 585h1v1h-1zM462 559h1v1h-1zM468 556h1v1h-1zM458 564h1v1h-1zM471 578h1v1h-1zM464 564h1v1h-1zM476 561h1v1h-1zM457 575h1v1h-1zM457 564h1v1h-1zM453 586h1v1h-1zM483 570h1v1h-1zM454 569h1v1h-1zM483 578h1v1h-1zM452 570h1v1h-1zM473 583h1v1h-1zM471 555h1v1h-1zM468 560h1v1h-1zM471 582h1v1h-1zM465 552h1v1h-1zM479 574h1v1h-1zM465 551h1v1h-1zM478 566h1v1h-1zM480 570h1v1h-1zM458 573h1v1h-1zM464 586h1v1h-1zM477 572h1v1h-1zM467 581h1v1h-1zM458 566h1v1h-1zM475 560h1v1h-1zM467 555h1v1h-1zM459 580h1v1h-1zM466 553h1v1h-1zM473 580h1v1h-1zM480 573h1v1h-1zM477 561h1v1h-1zM480 584h1v1h-1zM469 583h1v1h-1zM463 580h1v1h-1zM470 582h1v1h-1zM464 587h1v1h-1zM477 565h1v1h-1zM463 557h1v1h-1zM476 564h1v1h-1zM473 555h1v1h-1zM469 557h1v1h-1zM470 558h1v1h-1zM475 578h1v1h-1zM468 562h1v1h-1zM475 559h1v1h-1zM479 565h1v1h-1zM475 557h1v1h-1zM468 587h1v1h-1zM463 562h1v1h-1zM462 562h1v1h-1zM475 579h1v1h-1zM461 560h1v1h-1zM467 562h1v1h-1zM471 563h1v1h-1zM482 565h1v1h-1zM476 560h1v1h-1zM482 569h1v1h-1zM473 565h1v1h-1zM458 561h1v1h-1zM474 581h1v1h-1zM458 587h1v1h-1zM458 565h1v1h-1zM463 563h1v1h-1zM482 571h1v1h-1zM462 561h1v1h-1zM468 584h1v1h-1zM481 564h1v1h-1zM472 557h1v1h-1zM477 571h1v1h-1zM478 576h1v1h-1zM472 582h1v1h-1zM462 574h1v1h-1zM455 568h1v1h-1zM479 566h1v1h-1zM464 553h1v1h-1zM465 555h1v1h-1zM474 571h1v1h-1zM460 552h1v1h-1zM465 561h1v1h-1zM460 562h1v1h-1zM473 559h1v1h-1zM455 588h1v1h-1zM455 562h1v1h-1zM478 568h1v1h-1zM474 572h1v1h-1zM465 550h1v1h-1zM464 580h1v1h-1zM464 584h1v1h-1zM463 581h1v1h-1zM476 566h1v1h-1zM481 574h1v1h-1zM479 564h1v1h-1zM462 583h1v1h-1zM478 564h1v1h-1zM472 562h1v1h-1zM473 550h1v1h-1zM455 575h1v1h-1zM481 573h1v1h-1zM471 557h1v1h-1zM458 570h1v1h-1zM464 559h1v1h-1zM476 581h1v1h-1zM465 557h1v1h-1zM479 576h1v1h-1zM457 578h1v1h-1zM473 560h1v1h-1zM479 582h1v1h-1zM475 567h1v1h-1zM477 562h1v1h-1zM469 582h1v1h-1zM467 586h1v1h-1zM476 572h1v1h-1zM464 577h1v1h-1zM479 561h1v1h-1zM483 571h1v1h-1zM467 558h1v1h-1zM476 570h1v1h-1zM470 559h1v1h-1zM475 568h1v1h-1zM473 578h1v1h-1zM480 562h1v1h-1zM478 557h1v1h-1zM456 567h1v1h-1zM456 564h1v1h-1zM472 560h1v1h-1zM469 558h1v1h-1zM470 552h1v1h-1zM464 583h1v1h-1zM468 583h1v1h-1zM476 573h1v1h-1zM481 570h1v1h-1zM463 560h1v1h-1zM446 572h1v1h-1zM428 585h1v1h-1zM430 560h1v1h-1zM433 575h1v1h-1zM433 581h1v1h-1zM455 576h1v1h-1zM419 565h1v1h-1zM410 576h1v1h-1zM429 578h1v1h-1zM408 584h1v1h-1zM419 592h1v1h-1zM401 573h1v1h-1zM446 584h1v1h-1zM437 586h1v1h-1zM391 581h1v1h-1zM438 578h1v1h-1zM426 576h1v1h-1zM402 573h1v1h-1zM408 589h1v1h-1zM397 576h1v1h-1zM425 563h1v1h-1zM400 577h1v1h-1zM446 561h1v1h-1zM435 581h1v1h-1zM413 590h1v1h-1zM431 559h1v1h-1zM436 567h1v1h-1zM443 564h1v1h-1zM450 575h1v1h-1zM390 590h1v1h-1zM450 586h1v1h-1zM455 579h1v1h-1zM401 588h1v1h-1zM400 587h1v1h-1zM440 571h1v1h-1zM458 580h1v1h-1zM435 587h1v1h-1zM429 581h1v1h-1zM451 572h1v1h-1zM434 576h1v1h-1zM449 581h1v1h-1zM399 588h1v1h-1zM441 578h1v1h-1zM425 576h1v1h-1zM446 578h1v1h-1zM411 571h1v1h-1zM413 570h1v1h-1zM458 583h1v1h-1zM454 587h1v1h-1zM416 570h1v1h-1zM426 556h1v1h-1zM394 574h1v1h-1zM442 577h1v1h-1zM426 580h1v1h-1zM430 597h1v1h-1zM409 575h1v1h-1zM454 578h1v1h-1zM444 562h1v1h-1zM425 582h1v1h-1zM438 565h1v1h-1zM416 583h1v1h-1zM396 581h1v1h-1zM436 570h1v1h-1zM440 593h1v1h-1zM450 588h1v1h-1zM389 584h1v1h-1zM402 581h1v1h-1zM425 569h1v1h-1zM450 564h1v1h-1zM457 590h1v1h-1zM392 585h1v1h-1zM415 580h1v1h-1zM420 562h1v1h-1zM415 563h1v1h-1zM450 592h1v1h-1zM442 569h1v1h-1zM449 584h1v1h-1zM411 591h1v1h-1zM386 580h1v1h-1zM411 589h1v1h-1zM418 585h1v1h-1zM402 589h1v1h-1zM389 592h1v1h-1zM442 572h1v1h-1zM452 572h1v1h-1zM447 569h1v1h-1zM400 583h1v1h-1zM410 582h1v1h-1zM411 584h1v1h-1zM450 589h1v1h-1zM394 591h1v1h-1zM435 563h1v1h-1zM402 583h1v1h-1zM428 587h1v1h-1zM439 577h1v1h-1zM414 568h1v1h-1zM393 574h1v1h-1zM455 581h1v1h-1zM408 572h1v1h-1zM415 575h1v1h-1zM395 587h1v1h-1zM447 585h1v1h-1zM445 568h1v1h-1zM398 579h1v1h-1zM415 582h1v1h-1zM415 570h1v1h-1zM428 579h1v1h-1zM455 569h1v1h-1zM421 583h1v1h-1zM453 569h1v1h-1zM399 581h1v1h-1zM451 584h1v1h-1zM414 582h1v1h-1zM408 581h1v1h-1zM427 577h1v1h-1zM457 566h1v1h-1zM397 561h1v1h-1zM461 586h1v1h-1zM418 592h1v1h-1zM453 573h1v1h-1zM448 581h1v1h-1zM461 581h1v1h-1zM456 579h1v1h-1zM434 574h1v1h-1zM405 573h1v1h-1zM405 578h1v1h-1zM397 580h1v1h-1zM436 579h1v1h-1zM439 566h1v1h-1zM422 570h1v1h-1zM404 573h1v1h-1zM430 571h1v1h-1zM453 592h1v1h-1zM385 581h1v1h-1zM421 587h1v1h-1zM388 578h1v1h-1zM435 560h1v1h-1zM401 579h1v1h-1zM455 578h1v1h-1zM455 564h1v1h-1zM397 575h1v1h-1zM425 575h1v1h-1zM466 584h1v1h-1zM448 575h1v1h-1zM442 561h1v1h-1zM430 569h1v1h-1zM432 579h1v1h-1zM423 579h1v1h-1zM416 571h1v1h-1zM415 568h1v1h-1zM427 570h1v1h-1zM409 570h1v1h-1zM399 576h1v1h-1zM410 589h1v1h-1zM428 583h1v1h-1zM432 567h1v1h-1zM454 586h1v1h-1zM412 570h1v1h-1zM408 567h1v1h-1zM442 566h1v1h-1zM389 581h1v1h-1zM432 576h1v1h-1zM406 579h1v1h-1zM454 580h1v1h-1zM442 568h1v1h-1zM446 566h1v1h-1zM426 563h1v1h-1zM402 571h1v1h-1zM400 570h1v1h-1zM460 583h1v1h-1zM408 582h1v1h-1zM430 565h1v1h-1zM408 578h1v1h-1zM444 581h1v1h-1zM458 586h1v1h-1zM462 590h1v1h-1zM419 568h1v1h-1zM425 578h1v1h-1zM427 566h1v1h-1zM394 576h1v1h-1zM418 577h1v1h-1zM431 569h1v1h-1zM391 583h1v1h-1zM420 577h1v1h-1zM445 583h1v1h-1zM413 582h1v1h-1zM456 583h1v1h-1zM407 564h1v1h-1zM452 571h1v1h-1zM405 583h1v1h-1zM426 572h1v1h-1zM424 571h1v1h-1zM419 575h1v1h-1zM393 566h1v1h-1zM404 565h1v1h-1zM443 583h1v1h-1zM434 566h1v1h-1zM442 571h1v1h-1zM447 581h1v1h-1zM415 572h1v1h-1zM398 580h1v1h-1zM429 567h1v1h-1zM386 564h1v1h-1zM388 581h1v1h-1zM445 565h1v1h-1zM436 577h1v1h-1zM424 584h1v1h-1zM435 571h1v1h-1zM401 591h1v1h-1zM385 575h1v1h-1zM414 565h1v1h-1zM405 574h1v1h-1zM417 588h1v1h-1zM406 570h1v1h-1zM419 578h1v1h-1zM398 584h1v1h-1zM421 576h1v1h-1zM402 582h1v1h-1zM405 576h1v1h-1zM440 584h1v1h-1zM385 587h1v1h-1zM432 580h1v1h-1zM436 586h1v1h-1zM406 568h1v1h-1zM420 579h1v1h-1zM407 565h1v1h-1zM411 569h1v1h-1zM469 586h1v1h-1zM404 576h1v1h-1zM414 578h1v1h-1zM394 565h1v1h-1zM433 600h1v1h-1zM447 580h1v1h-1zM423 581h1v1h-1zM428 582h1v1h-1zM422 565h1v1h-1zM428 578h1v1h-1zM407 585h1v1h-1zM401 585h1v1h-1zM388 573h1v1h-1zM390 580h1v1h-1zM446 563h1v1h-1zM455 571h1v1h-1zM434 578h1v1h-1zM418 590h1v1h-1zM389 565h1v1h-1zM418 566h1v1h-1zM387 568h1v1h-1zM464 588h1v1h-1zM402 566h1v1h-1zM390 568h1v1h-1zM410 585h1v1h-1zM412 581h1v1h-1zM413 563h1v1h-1zM455 585h1v1h-1zM423 568h1v1h-1zM399 580h1v1h-1zM455 584h1v1h-1zM402 586h1v1h-1zM423 575h1v1h-1zM407 591h1v1h-1zM456 578h1v1h-1zM441 570h1v1h-1zM412 571h1v1h-1zM435 588h1v1h-1zM445 558h1v1h-1zM422 582h1v1h-1zM411 577h1v1h-1zM418 555h1v1h-1zM420 574h1v1h-1zM425 585h1v1h-1zM443 561h1v1h-1zM451 571h1v1h-1zM444 583h1v1h-1zM404 571h1v1h-1zM440 573h1v1h-1zM408 566h1v1h-1zM457 585h1v1h-1zM416 586h1v1h-1zM455 580h1v1h-1zM449 574h1v1h-1zM441 580h1v1h-1zM442 578h1v1h-1zM403 588h1v1h-1zM449 580h1v1h-1zM451 579h1v1h-1zM451 567h1v1h-1zM400 571h1v1h-1zM447 584h1v1h-1zM444 576h1v1h-1zM414 573h1v1h-1zM429 582h1v1h-1zM440 587h1v1h-1zM432 565h1v1h-1zM393 571h1v1h-1zM456 591h1v1h-1zM443 586h1v1h-1zM462 558h1v1h-1zM417 573h1v1h-1zM447 563h1v1h-1zM403 587h1v1h-1zM413 583h1v1h-1zM404 585h1v1h-1zM432 575h1v1h-1zM415 576h1v1h-1zM448 571h1v1h-1zM452 576h1v1h-1zM453 576h1v1h-1zM434 583h1v1h-1zM411 580h1v1h-1zM410 580h1v1h-1zM428 577h1v1h-1zM452 582h1v1h-1zM419 571h1v1h-1zM408 574h1v1h-1zM406 580h1v1h-1zM419 581h1v1h-1zM454 572h1v1h-1zM445 570h1v1h-1zM414 563h1v1h-1zM427 588h1v1h-1zM413 594h1v1h-1zM420 578h1v1h-1zM434 575h1v1h-1zM439 576h1v1h-1zM446 559h1v1h-1zM442 570h1v1h-1zM450 565h1v1h-1zM436 583h1v1h-1zM438 587h1v1h-1zM417 589h1v1h-1zM407 580h1v1h-1zM446 590h1v1h-1zM450 577h1v1h-1zM390 569h1v1h-1zM433 584h1v1h-1zM419 576h1v1h-1zM447 589h1v1h-1zM388 580h1v1h-1zM400 589h1v1h-1zM441 568h1v1h-1zM421 572h1v1h-1zM446 582h1v1h-1zM428 574h1v1h-1zM459 581h1v1h-1zM392 582h1v1h-1zM417 578h1v1h-1zM395 583h1v1h-1zM400 569h1v1h-1zM443 574h1v1h-1zM406 590h1v1h-1zM402 579h1v1h-1zM456 576h1v1h-1zM441 567h1v1h-1zM401 583h1v1h-1zM450 576h1v1h-1zM434 565h1v1h-1zM453 577h1v1h-1zM421 585h1v1h-1zM397 581h1v1h-1zM448 558h1v1h-1zM438 579h1v1h-1zM428 569h1v1h-1zM417 570h1v1h-1zM444 574h1v1h-1zM414 574h1v1h-1zM408 593h1v1h-1zM431 591h1v1h-1zM413 581h1v1h-1zM426 584h1v1h-1zM446 568h1v1h-1zM404 586h1v1h-1zM429 586h1v1h-1zM445 586h1v1h-1zM411 565h1v1h-1zM441 574h1v1h-1zM424 587h1v1h-1zM415 579h1v1h-1zM420 580h1v1h-1zM432 591h1v1h-1zM397 568h1v1h-1zM444 571h1v1h-1zM414 567h1v1h-1zM416 575h1v1h-1zM454 566h1v1h-1zM392 583h1v1h-1zM391 585h1v1h-1zM446 585h1v1h-1zM434 580h1v1h-1zM405 563h1v1h-1zM460 564h1v1h-1zM414 566h1v1h-1zM421 567h1v1h-1zM456 580h1v1h-1zM453 581h1v1h-1zM439 586h1v1h-1zM447 574h1v1h-1zM415 564h1v1h-1zM437 574h1v1h-1zM448 570h1v1h-1zM444 580h1v1h-1zM431 584h1v1h-1zM417 580h1v1h-1zM390 571h1v1h-1zM393 580h1v1h-1zM408 562h1v1h-1zM400 558h1v1h-1zM448 584h1v1h-1zM427 571h1v1h-1zM456 565h1v1h-1zM392 580h1v1h-1zM390 589h1v1h-1zM408 575h1v1h-1zM412 577h1v1h-1zM407 582h1v1h-1zM444 572h1v1h-1zM442 574h1v1h-1zM427 576h1v1h-1zM460 577h1v1h-1zM408 579h1v1h-1zM434 586h1v1h-1zM399 577h1v1h-1zM408 573h1v1h-1zM419 573h1v1h-1zM428 571h1v1h-1zM436 569h1v1h-1zM439 574h1v1h-1zM454 577h1v1h-1zM418 569h1v1h-1zM420 561h1v1h-1zM398 570h1v1h-1zM458 581h1v1h-1zM410 572h1v1h-1zM437 576h1v1h-1zM430 561h1v1h-1zM439 573h1v1h-1zM418 580h1v1h-1zM414 580h1v1h-1zM451 569h1v1h-1zM423 583h1v1h-1zM433 571h1v1h-1zM424 577h1v1h-1zM411 582h1v1h-1zM410 587h1v1h-1zM414 570h1v1h-1zM419 580h1v1h-1zM398 591h1v1h-1zM432 573h1v1h-1zM401 571h1v1h-1zM427 580h1v1h-1zM418 584h1v1h-1zM448 568h1v1h-1zM389 575h1v1h-1zM406 573h1v1h-1zM412 580h1v1h-1zM453 561h1v1h-1zM408 577h1v1h-1zM399 575h1v1h-1zM457 572h1v1h-1zM445 578h1v1h-1zM451 568h1v1h-1zM426 583h1v1h-1zM389 583h1v1h-1zM445 576h1v1h-1zM398 576h1v1h-1zM413 568h1v1h-1zM406 587h1v1h-1zM416 576h1v1h-1zM412 585h1v1h-1zM437 577h1v1h-1zM402 578h1v1h-1zM400 584h1v1h-1zM407 597h1v1h-1zM444 577h1v1h-1zM438 568h1v1h-1zM400 557h1v1h-1zM385 577h1v1h-1zM441 565h1v1h-1zM452 573h1v1h-1zM420 576h1v1h-1zM406 583h1v1h-1zM444 584h1v1h-1zM451 570h1v1h-1zM399 571h1v1h-1zM393 576h1v1h-1zM411 574h1v1h-1zM424 567h1v1h-1zM449 589h1v1h-1zM452 569h1v1h-1zM450 571h1v1h-1zM391 582h1v1h-1zM410 569h1v1h-1zM432 570h1v1h-1zM434 577h1v1h-1zM395 576h1v1h-1zM405 580h1v1h-1zM453 558h1v1h-1zM410 558h1v1h-1zM433 582h1v1h-1zM443 569h1v1h-1zM439 580h1v1h-1zM438 580h1v1h-1zM424 574h1v1h-1zM399 573h1v1h-1zM449 590h1v1h-1zM422 575h1v1h-1zM414 577h1v1h-1zM463 579h1v1h-1zM436 587h1v1h-1zM387 584h1v1h-1zM414 553h1v1h-1zM435 585h1v1h-1zM435 577h1v1h-1zM426 588h1v1h-1zM423 569h1v1h-1zM408 571h1v1h-1zM422 583h1v1h-1zM408 564h1v1h-1zM430 587h1v1h-1zM398 590h1v1h-1zM418 579h1v1h-1zM388 570h1v1h-1zM446 569h1v1h-1zM421 571h1v1h-1zM399 566h1v1h-1zM392 570h1v1h-1zM419 572h1v1h-1zM417 574h1v1h-1zM384 581h1v1h-1zM435 582h1v1h-1zM440 581h1v1h-1zM442 579h1v1h-1zM440 569h1v1h-1zM399 570h1v1h-1zM421 580h1v1h-1zM404 581h1v1h-1zM414 592h1v1h-1zM404 579h1v1h-1zM395 571h1v1h-1zM463 584h1v1h-1zM421 590h1v1h-1zM434 581h1v1h-1zM442 583h1v1h-1zM422 572h1v1h-1zM406 564h1v1h-1zM452 592h1v1h-1zM396 562h1v1h-1zM417 579h1v1h-1zM405 577h1v1h-1zM432 578h1v1h-1zM442 580h1v1h-1zM415 573h1v1h-1zM398 568h1v1h-1zM389 590h1v1h-1zM441 582h1v1h-1zM407 579h1v1h-1zM387 580h1v1h-1zM446 579h1v1h-1zM411 588h1v1h-1zM440 578h1v1h-1zM396 589h1v1h-1zM422 586h1v1h-1zM432 559h1v1h-1zM450 581h1v1h-1zM458 563h1v1h-1zM427 581h1v1h-1zM455 582h1v1h-1zM392 586h1v1h-1zM414 586h1v1h-1zM454 590h1v1h-1zM411 585h1v1h-1zM447 588h1v1h-1zM410 583h1v1h-1zM433 569h1v1h-1zM395 588h1v1h-1zM451 582h1v1h-1zM419 574h1v1h-1zM445 554h1v1h-1zM400 579h1v1h-1zM459 586h1v1h-1zM423 578h1v1h-1zM441 569h1v1h-1zM416 574h1v1h-1zM397 579h1v1h-1zM451 574h1v1h-1zM441 576h1v1h-1zM432 582h1v1h-1zM395 574h1v1h-1zM438 572h1v1h-1zM439 581h1v1h-1zM413 580h1v1h-1zM447 573h1v1h-1zM445 564h1v1h-1zM430 573h1v1h-1zM420 575h1v1h-1zM396 584h1v1h-1zM448 565h1v1h-1zM444 575h1v1h-1zM429 585h1v1h-1zM406 571h1v1h-1zM431 578h1v1h-1zM453 585h1v1h-1zM447 579h1v1h-1zM432 571h1v1h-1zM452 577h1v1h-1zM436 573h1v1h-1zM404 570h1v1h-1zM431 588h1v1h-1zM410 590h1v1h-1zM452 567h1v1h-1zM395 577h1v1h-1zM451 586h1v1h-1zM426 567h1v1h-1zM450 558h1v1h-1zM427 575h1v1h-1zM443 568h1v1h-1zM388 567h1v1h-1zM419 587h1v1h-1zM397 586h1v1h-1zM404 567h1v1h-1zM403 576h1v1h-1zM400 574h1v1h-1zM452 583h1v1h-1zM425 588h1v1h-1zM387 572h1v1h-1zM431 593h1v1h-1zM398 578h1v1h-1zM412 564h1v1h-1zM417 576h1v1h-1zM433 556h1v1h-1zM421 586h1v1h-1zM448 573h1v1h-1zM389 601h1v1h-1zM414 585h1v1h-1zM460 555h1v1h-1zM427 582h1v1h-1zM409 565h1v1h-1zM448 560h1v1h-1zM389 585h1v1h-1zM391 587h1v1h-1zM444 565h1v1h-1zM456 587h1v1h-1zM398 573h1v1h-1zM442 584h1v1h-1zM443 572h1v1h-1zM397 571h1v1h-1zM444 569h1v1h-1zM449 564h1v1h-1zM427 578h1v1h-1zM402 553h1v1h-1zM453 570h1v1h-1zM412 578h1v1h-1zM456 570h1v1h-1zM433 577h1v1h-1zM418 558h1v1h-1zM420 568h1v1h-1zM403 550h1v1h-1zM444 557h1v1h-1zM418 564h1v1h-1zM425 571h1v1h-1zM482 563h1v1h-1zM439 562h1v1h-1zM439 546h1v1h-1zM394 581h1v1h-1zM424 558h1v1h-1zM469 552h1v1h-1zM457 550h1v1h-1zM442 537h1v1h-1zM435 544h1v1h-1zM442 532h1v1h-1zM452 558h1v1h-1zM430 554h1v1h-1zM365 558h1v1h-1zM474 549h1v1h-1zM435 545h1v1h-1zM482 570h1v1h-1zM401 533h1v1h-1zM479 532h1v1h-1z" fill="#0a0a0a" fill-opacity="0.55"/>
<path d="M88 569h1v1h-1zM102 563h1v1h-1zM89 586h1v1h-1zM87 572h1v1h-1zM100 565h1v1h-1zM103 564h1v1h-1zM90 569h1v1h-1zM87 569h1v1h-1zM108 559h1v1h-1zM92 584h1v1h-1zM86 572h1v1h-1zM96 559h1v1h-1zM104 565h1v1h-1zM100 577h1v1h-1zM101 571h1v1h-1zM102 573h1v1h-1zM90 578h1v1h-1zM89 568h1v1h-1zM88 583h1v1h-1zM85 590h1v1h-1zM104 563h1v1h-1zM98 559h1v1h-1zM98 568h1v1h-1zM97 555h1v1h-1zM92 559h1v1h-1zM103 562h1v1h-1zM101 577h1v1h-1zM93 560h1v1h-1zM96 557h1v1h-1zM85 587h1v1h-1zM107 566h1v1h-1zM86 574h1v1h-1zM87 571h1v1h-1zM89 567h1v1h-1zM96 582h1v1h-1zM87 585h1v1h-1zM85 562h1v1h-1zM100 559h1v1h-1zM88 573h1v1h-1zM104 557h1v1h-1zM93 581h1v1h-1zM90 581h1v1h-1zM102 571h1v1h-1zM93 558h1v1h-1zM95 558h1v1h-1zM85 580h1v1h-1zM89 565h1v1h-1zM98 561h1v1h-1zM95 561h1v1h-1zM101 563h1v1h-1zM94 561h1v1h-1zM100 574h1v1h-1zM85 582h1v1h-1zM102 569h1v1h-1zM89 582h1v1h-1zM94 563h1v1h-1zM96 562h1v1h-1zM99 578h1v1h-1zM100 555h1v1h-1zM93 580h1v1h-1zM106 556h1v1h-1zM88 572h1v1h-1zM90 563h1v1h-1zM91 582h1v1h-1zM97 580h1v1h-1zM91 585h1v1h-1zM87 567h1v1h-1zM103 565h1v1h-1zM104 567h1v1h-1zM92 557h1v1h-1zM97 581h1v1h-1zM88 577h1v1h-1zM100 580h1v1h-1zM89 570h1v1h-1zM96 561h1v1h-1zM73 570h1v1h-1zM88 588h1v1h-1zM72 585h1v1h-1zM82 568h1v1h-1zM99 584h1v1h-1zM86 595h1v1h-1zM83 593h1v1h-1zM84 587h1v1h-1zM83 577h1v1h-1zM80 587h1v1h-1zM85 571h1v1h-1zM98 586h1v1h-1zM83 583h1v1h-1zM94 586h1v1h-1zM82 592h1v1h-1zM69 580h1v1h-1zM79 583h1v1h-1zM87 580h1v1h-1zM95 587h1v1h-1zM104 579h1v1h-1zM78 572h1v1h-1zM98 582h1v1h-1zM73 568h1v1h-1zM81 571h1v1h-1zM87 589h1v1h-1zM97 588h1v1h-1zM92 587h1v1h-1zM75 572h1v1h-1zM77 575h1v1h-1zM82 580h1v1h-1zM80 591h1v1h-1zM79 576h1v1h-1zM83 571h1v1h-1zM93 592h1v1h-1zM77 571h1v1h-1zM92 583h1v1h-1zM89 585h1v1h-1zM93 590h1v1h-1zM83 585h1v1h-1zM83 574h1v1h-1zM78 579h1v1h-1zM87 584h1v1h-1zM95 583h1v1h-1zM81 582h1v1h-1zM83 581h1v1h-1zM86 560h1v1h-1zM79 592h1v1h-1zM80 573h1v1h-1zM99 581h1v1h-1zM85 583h1v1h-1zM75 576h1v1h-1zM106 577h1v1h-1zM87 556h1v1h-1zM241 542h1v1h-1zM242 559h1v1h-1zM230 568h1v1h-1zM247 566h1v1h-1zM245 558h1v1h-1zM240 567h1v1h-1zM239 551h1v1h-1zM228 554h1v1h-1zM244 544h1v1h-1zM236 546h1v1h-1zM249 570h1v1h-1zM246 548h1v1h-1zM250 565h1v1h-1zM247 567h1v1h-1zM245 544h1v1h-1zM247 554h1v1h-1zM248 563h1v1h-1zM242 556h1v1h-1zM231 557h1v1h-1zM248 565h1v1h-1zM248 542h1v1h-1zM241 550h1v1h-1zM233 555h1v1h-1zM228 550h1v1h-1zM233 546h1v1h-1zM248 562h1v1h-1zM248 558h1v1h-1zM243 569h1v1h-1zM229 550h1v1h-1zM248 559h1v1h-1zM229 571h1v1h-1zM251 548h1v1h-1zM232 554h1v1h-1zM230 557h1v1h-1zM236 551h1v1h-1zM234 557h1v1h-1zM250 556h1v1h-1zM239 549h1v1h-1zM247 559h1v1h-1zM245 570h1v1h-1zM248 555h1v1h-1zM240 548h1v1h-1zM236 562h1v1h-1zM237 544h1v1h-1zM246 551h1v1h-1zM235 564h1v1h-1zM249 560h1v1h-1zM238 549h1v1h-1zM246 566h1v1h-1zM234 555h1v1h-1zM232 560h1v1h-1zM234 549h1v1h-1zM239 546h1v1h-1zM240 554h1v1h-1zM236 555h1v1h-1zM239 565h1v1h-1zM237 565h1v1h-1zM241 551h1v1h-1zM231 554h1v1h-1zM237 546h1v1h-1zM245 559h1v1h-1zM246 552h1v1h-1zM240 553h1v1h-1zM233 556h1v1h-1zM230 552h1v1h-1zM233 553h1v1h-1zM228 558h1v1h-1zM235 555h1v1h-1zM241 566h1v1h-1zM250 560h1v1h-1zM225 554h1v1h-1zM250 545h1v1h-1zM245 547h1v1h-1zM238 540h1v1h-1zM238 562h1v1h-1zM233 558h1v1h-1zM235 550h1v1h-1zM246 555h1v1h-1zM238 545h1v1h-1zM253 554h1v1h-1zM230 555h1v1h-1zM242 566h1v1h-1zM234 563h1v1h-1zM241 564h1v1h-1zM249 562h1v1h-1zM243 547h1v1h-1zM247 550h1v1h-1zM241 546h1v1h-1zM248 548h1v1h-1zM251 555h1v1h-1zM248 569h1v1h-1zM238 563h1v1h-1zM246 561h1v1h-1zM238 546h1v1h-1zM237 545h1v1h-1zM240 547h1v1h-1zM231 555h1v1h-1zM248 567h1v1h-1zM247 563h1v1h-1zM230 573h1v1h-1zM235 592h1v1h-1zM239 574h1v1h-1zM237 567h1v1h-1zM240 581h1v1h-1zM234 587h1v1h-1zM245 576h1v1h-1zM228 568h1v1h-1zM235 571h1v1h-1zM247 580h1v1h-1zM230 570h1v1h-1zM232 581h1v1h-1zM227 581h1v1h-1zM240 578h1v1h-1zM240 577h1v1h-1zM238 572h1v1h-1zM223 577h1v1h-1zM246 571h1v1h-1zM245 578h1v1h-1zM243 565h1v1h-1zM238 577h1v1h-1zM227 563h1v1h-1zM230 579h1v1h-1zM244 572h1v1h-1zM229 583h1v1h-1zM245 568h1v1h-1zM236 549h1v1h-1zM243 582h1v1h-1zM229 580h1v1h-1zM242 565h1v1h-1zM237 585h1v1h-1zM236 577h1v1h-1zM239 570h1v1h-1zM242 584h1v1h-1zM244 565h1v1h-1zM230 592h1v1h-1zM234 576h1v1h-1zM234 564h1v1h-1zM233 579h1v1h-1zM228 566h1v1h-1zM244 571h1v1h-1zM246 578h1v1h-1zM238 576h1v1h-1zM239 581h1v1h-1zM246 570h1v1h-1zM234 579h1v1h-1zM244 588h1v1h-1zM231 569h1v1h-1zM246 572h1v1h-1zM239 583h1v1h-1zM234 585h1v1h-1zM229 566h1v1h-1zM241 579h1v1h-1zM238 591h1v1h-1zM239 556h1v1h-1zM226 570h1v1h-1zM228 575h1v1h-1zM235 581h1v1h-1zM231 574h1v1h-1zM234 588h1v1h-1zM235 583h1v1h-1zM239 586h1v1h-1zM242 592h1v1h-1zM239 591h1v1h-1zM233 566h1v1h-1zM230 583h1v1h-1zM228 586h1v1h-1zM247 576h1v1h-1zM244 584h1v1h-1zM236 582h1v1h-1zM241 595h1v1h-1zM242 569h1v1h-1zM233 577h1v1h-1zM237 584h1v1h-1zM238 578h1v1h-1zM240 582h1v1h-1zM226 577h1v1h-1zM228 581h1v1h-1zM231 559h1v1h-1zM241 582h1v1h-1zM231 571h1v1h-1zM246 579h1v1h-1zM231 585h1v1h-1zM246 562h1v1h-1zM230 562h1v1h-1zM238 582h1v1h-1zM229 575h1v1h-1zM244 585h1v1h-1zM243 572h1v1h-1zM232 585h1v1h-1zM244 570h1v1h-1zM236 584h1v1h-1zM227 568h1v1h-1zM236 563h1v1h-1zM229 576h1v1h-1zM244 567h1v1h-1zM228 588h1v1h-1zM240 584h1v1h-1zM235 593h1v1h-1zM242 582h1v1h-1zM229 574h1v1h-1zM220 573h1v1h-1zM232 587h1v1h-1zM250 570h1v1h-1zM244 582h1v1h-1zM231 572h1v1h-1zM241 598h1v1h-1zM234 577h1v1h-1zM228 582h1v1h-1zM233 581h1v1h-1zM245 566h1v1h-1zM227 566h1v1h-1zM224 577h1v1h-1zM227 580h1v1h-1zM223 564h1v1h-1zM226 558h1v1h-1zM214 573h1v1h-1zM233 586h1v1h-1zM225 574h1v1h-1zM232 579h1v1h-1zM240 580h1v1h-1zM219 583h1v1h-1zM228 580h1v1h-1zM222 573h1v1h-1zM224 549h1v1h-1zM221 576h1v1h-1zM248 556h1v1h-1zM244 589h1v1h-1zM225 573h1v1h-1zM233 576h1v1h-1zM228 561h1v1h-1zM228 567h1v1h-1zM240 586h1v1h-1zM246 563h1v1h-1zM225 568h1v1h-1zM222 560h1v1h-1zM221 565h1v1h-1zM231 589h1v1h-1zM237 582h1v1h-1zM224 581h1v1h-1zM227 578h1v1h-1zM229 561h1v1h-1zM220 590h1v1h-1zM239 588h1v1h-1zM248 589h1v1h-1zM226 582h1v1h-1zM219 571h1v1h-1zM224 574h1v1h-1zM222 582h1v1h-1zM251 576h1v1h-1zM224 570h1v1h-1zM223 565h1v1h-1zM226 571h1v1h-1zM225 582h1v1h-1zM481 560h1v1h-1zM462 557h1v1h-1zM460 563h1v1h-1zM462 567h1v1h-1zM479 577h1v1h-1zM472 559h1v1h-1zM476 574h1v1h-1zM462 582h1v1h-1zM475 565h1v1h-1zM465 563h1v1h-1zM472 571h1v1h-1zM459 566h1v1h-1zM472 558h1v1h-1zM459 568h1v1h-1zM472 584h1v1h-1zM477 569h1v1h-1zM468 564h1v1h-1zM466 582h1v1h-1zM462 563h1v1h-1zM476 565h1v1h-1zM473 558h1v1h-1zM461 578h1v1h-1zM457 567h1v1h-1zM459 563h1v1h-1zM465 558h1v1h-1zM475 576h1v1h-1zM461 561h1v1h-1zM479 570h1v1h-1zM466 561h1v1h-1zM458 572h1v1h-1zM463 578h1v1h-1zM476 575h1v1h-1zM471 559h1v1h-1zM476 562h1v1h-1zM477 570h1v1h-1zM460 568h1v1h-1zM470 562h1v1h-1zM472 565h1v1h-1zM464 560h1v1h-1zM479 572h1v1h-1zM471 562h1v1h-1zM467 580h1v1h-1zM459 557h1v1h-1zM468 563h1v1h-1zM474 567h1v1h-1zM466 583h1v1h-1zM478 567h1v1h-1zM475 573h1v1h-1zM470 581h1v1h-1zM474 563h1v1h-1zM457 565h1v1h-1zM463 564h1v1h-1zM455 572h1v1h-1zM462 571h1v1h-1zM473 579h1v1h-1zM467 559h1v1h-1zM462 568h1v1h-1zM475 582h1v1h-1zM473 572h1v1h-1zM479 571h1v1h-1zM466 557h1v1h-1zM464 557h1v1h-1zM470 564h1v1h-1zM477 575h1v1h-1zM460 560h1v1h-1zM456 571h1v1h-1zM473 566h1v1h-1zM467 560h1v1h-1zM461 566h1v1h-1zM473 581h1v1h-1zM472 578h1v1h-1zM468 573h1v1h-1zM461 564h1v1h-1zM473 570h1v1h-1zM458 562h1v1h-1zM472 561h1v1h-1zM469 560h1v1h-1zM462 564h1v1h-1zM471 568h1v1h-1zM473 573h1v1h-1zM468 582h1v1h-1zM471 574h1v1h-1zM457 579h1v1h-1zM463 559h1v1h-1zM457 574h1v1h-1zM462 569h1v1h-1zM460 574h1v1h-1zM458 567h1v1h-1zM459 572h1v1h-1zM475 569h1v1h-1zM461 555h1v1h-1zM458 574h1v1h-1zM464 561h1v1h-1zM462 581h1v1h-1zM476 569h1v1h-1zM474 561h1v1h-1zM472 577h1v1h-1zM480 561h1v1h-1zM461 582h1v1h-1zM457 581h1v1h-1zM454 567h1v1h-1zM459 569h1v1h-1zM458 579h1v1h-1zM463 585h1v1h-1zM456 563h1v1h-1zM461 577h1v1h-1zM469 580h1v1h-1zM460 579h1v1h-1zM457 562h1v1h-1zM471 554h1v1h-1zM456 566h1v1h-1zM459 579h1v1h-1zM471 575h1v1h-1zM470 578h1v1h-1zM464 581h1v1h-1zM395 579h1v1h-1zM418 572h1v1h-1zM406 576h1v1h-1zM384 577h1v1h-1zM392 578h1v1h-1zM441 583h1v1h-1zM435 576h1v1h-1zM445 571h1v1h-1zM430 570h1v1h-1zM435 574h1v1h-1zM423 582h1v1h-1zM448 572h1v1h-1zM432 574h1v1h-1zM431 573h1v1h-1zM409 572h1v1h-1zM396 567h1v1h-1zM424 576h1v1h-1zM429 580h1v1h-1zM435 586h1v1h-1zM438 575h1v1h-1zM431 572h1v1h-1zM436 581h1v1h-1zM411 586h1v1h-1zM426 569h1v1h-1zM447 578h1v1h-1zM450 578h1v1h-1zM425 577h1v1h-1zM453 584h1v1h-1zM456 568h1v1h-1zM443 578h1v1h-1zM430 572h1v1h-1zM434 569h1v1h-1zM450 582h1v1h-1zM437 578h1v1h-1zM456 581h1v1h-1zM454 574h1v1h-1zM402 580h1v1h-1zM398 572h1v1h-1zM429 572h1v1h-1zM390 577h1v1h-1zM403 577h1v1h-1zM455 563h1v1h-1zM415 578h1v1h-1zM435 570h1v1h-1zM416 584h1v1h-1zM454 570h1v1h-1zM443 585h1v1h-1zM413 586h1v1h-1zM459 577h1v1h-1zM457 576h1v1h-1zM458 575h1v1h-1zM457 569h1v1h-1zM435 575h1v1h-1zM413 578h1v1h-1zM413 576h1v1h-1zM438 570h1v1h-1zM439 568h1v1h-1zM412 573h1v1h-1zM457 580h1v1h-1zM439 579h1v1h-1zM421 578h1v1h-1zM441 575h1v1h-1zM431 574h1v1h-1zM446 583h1v1h-1zM430 583h1v1h-1zM440 565h1v1h-1zM442 559h1v1h-1zM426 574h1v1h-1zM419 585h1v1h-1zM432 572h1v1h-1zM442 581h1v1h-1zM442 582h1v1h-1zM460 561h1v1h-1zM406 589h1v1h-1zM439 578h1v1h-1zM448 566h1v1h-1zM396 577h1v1h-1zM443 580h1v1h-1zM412 574h1v1h-1zM415 585h1v1h-1zM450 574h1v1h-1zM451 561h1v1h-1zM403 582h1v1h-1zM438 584h1v1h-1zM445 572h1v1h-1zM446 586h1v1h-1zM421 577h1v1h-1zM424 572h1v1h-1zM405 570h1v1h-1zM446 577h1v1h-1zM429 573h1v1h-1zM431 580h1v1h-1zM428 573h1v1h-1zM450 587h1v1h-1zM449 573h1v1h-1zM449 575h1v1h-1zM406 585h1v1h-1zM445 574h1v1h-1zM407 570h1v1h-1zM462 580h1v1h-1zM458 584h1v1h-1zM448 577h1v1h-1zM434 568h1v1h-1zM433 573h1v1h-1zM438 581h1v1h-1zM439 569h1v1h-1zM426 571h1v1h-1zM412 576h1v1h-1zM434 572h1v1h-1zM417 572h1v1h-1zM447 575h1v1h-1zM438 569h1v1h-1zM444 585h1v1h-1zM404 588h1v1h-1zM414 576h1v1h-1zM446 580h1v1h-1zM437 570h1v1h-1zM440 570h1v1h-1zM431 575h1v1h-1zM418 575h1v1h-1zM424 586h1v1h-1zM448 574h1v1h-1zM427 585h1v1h-1zM451 576h1v1h-1zM417 584h1v1h-1zM440 574h1v1h-1zM450 568h1v1h-1zM401 578h1v1h-1zM443 573h1v1h-1zM409 582h1v1h-1zM429 589h1v1h-1zM427 583h1v1h-1zM399 578h1v1h-1zM439 563h1v1h-1zM416 573h1v1h-1zM428 588h1v1h-1zM405 579h1v1h-1zM454 582h1v1h-1zM426 573h1v1h-1zM452 580h1v1h-1zM414 571h1v1h-1zM436 568h1v1h-1zM414 575h1v1h-1zM454 576h1v1h-1zM390 575h1v1h-1zM423 573h1v1h-1zM412 586h1v1h-1zM403 583h1v1h-1zM420 565h1v1h-1zM453 582h1v1h-1zM444 579h1v1h-1zM426 587h1v1h-1zM394 573h1v1h-1zM425 574h1v1h-1zM420 566h1v1h-1zM428 564h1v1h-1zM448 576h1v1h-1zM445 569h1v1h-1zM449 571h1v1h-1zM452 574h1v1h-1zM449 578h1v1h-1zM422 573h1v1h-1zM418 573h1v1h-1zM425 581h1v1h-1zM454 583h1v1h-1zM422 563h1v1h-1zM393 573h1v1h-1zM449 572h1v1h-1zM390 581h1v1h-1zM440 577h1v1h-1zM419 586h1v1h-1zM409 586h1v1h-1zM438 574h1v1h-1zM392 576h1v1h-1zM437 575h1v1h-1zM421 569h1v1h-1zM439 572h1v1h-1zM417 590h1v1h-1zM399 583h1v1h-1zM417 592h1v1h-1zM391 580h1v1h-1zM434 570h1v1h-1zM420 585h1v1h-1zM398 574h1v1h-1z" fill="#0a0a0a" fill-opacity="0.8"/>
<path d="M92 569h1v1h-1zM97 569h1v1h-1zM96 577h1v1h-1zM92 572h1v1h-1zM90 575h1v1h-1zM96 570h1v1h-1zM95 574h1v1h-1zM96 575h1v1h-1zM97 567h1v1h-1zM100 570h1v1h-1zM99 571h1v1h-1zM92 575h1v1h-1zM99 572h1v1h-1zM98 566h1v1h-1zM91 578h1v1h-1zM91 571h1v1h-1zM88 581h1v1h-1zM93 579h1v1h-1zM85 579h1v1h-1zM96 572h1v1h-1zM92 578h1v1h-1zM89 566h1v1h-1zM94 571h1v1h-1zM91 572h1v1h-1zM95 570h1v1h-1zM88 566h1v1h-1zM92 580h1v1h-1zM95 577h1v1h-1zM97 571h1v1h-1zM95 563h1v1h-1zM91 573h1v1h-1zM101 574h1v1h-1zM93 568h1v1h-1zM93 569h1v1h-1zM90 577h1v1h-1zM92 568h1v1h-1zM95 582h1v1h-1zM96 564h1v1h-1zM90 567h1v1h-1zM97 576h1v1h-1zM100 567h1v1h-1zM95 579h1v1h-1zM96 566h1v1h-1zM93 564h1v1h-1zM98 572h1v1h-1zM95 565h1v1h-1zM93 574h1v1h-1zM94 568h1v1h-1zM96 574h1v1h-1zM101 572h1v1h-1zM93 578h1v1h-1zM90 572h1v1h-1zM102 567h1v1h-1zM97 562h1v1h-1zM89 577h1v1h-1zM96 576h1v1h-1zM97 566h1v1h-1zM86 580h1v1h-1zM100 563h1v1h-1zM97 574h1v1h-1zM96 573h1v1h-1zM89 569h1v1h-1zM101 561h1v1h-1zM95 573h1v1h-1zM99 569h1v1h-1zM93 570h1v1h-1zM92 570h1v1h-1zM94 578h1v1h-1zM102 565h1v1h-1zM94 570h1v1h-1zM90 570h1v1h-1zM95 562h1v1h-1zM94 569h1v1h-1zM98 567h1v1h-1zM98 569h1v1h-1zM85 581h1v1h-1zM91 567h1v1h-1zM90 574h1v1h-1zM94 574h1v1h-1zM96 569h1v1h-1zM101 569h1v1h-1zM97 573h1v1h-1zM100 569h1v1h-1zM89 575h1v1h-1zM101 573h1v1h-1zM93 577h1v1h-1zM99 579h1v1h-1zM99 565h1v1h-1zM98 571h1v1h-1zM90 576h1v1h-1zM94 567h1v1h-1zM89 583h1v1h-1zM98 565h1v1h-1zM87 579h1v1h-1zM99 566h1v1h-1zM96 565h1v1h-1zM89 579h1v1h-1zM93 575h1v1h-1zM94 579h1v1h-1zM94 575h1v1h-1zM93 573h1v1h-1zM92 579h1v1h-1zM94 576h1v1h-1zM101 560h1v1h-1zM95 578h1v1h-1zM90 579h1v1h-1zM89 580h1v1h-1zM103 569h1v1h-1zM91 568h1v1h-1zM95 567h1v1h-1zM95 571h1v1h-1zM88 576h1v1h-1zM100 562h1v1h-1zM94 565h1v1h-1zM94 572h1v1h-1zM100 564h1v1h-1zM99 567h1v1h-1zM89 571h1v1h-1zM95 581h1v1h-1zM101 566h1v1h-1zM99 573h1v1h-1zM95 566h1v1h-1zM97 565h1v1h-1zM98 564h1v1h-1zM96 567h1v1h-1zM97 564h1v1h-1zM102 559h1v1h-1zM97 560h1v1h-1zM90 580h1v1h-1zM92 576h1v1h-1zM94 582h1v1h-1zM90 583h1v1h-1zM96 568h1v1h-1zM95 572h1v1h-1zM93 576h1v1h-1zM91 580h1v1h-1zM96 583h1v1h-1zM94 566h1v1h-1zM93 566h1v1h-1zM97 579h1v1h-1zM92 573h1v1h-1zM89 573h1v1h-1zM92 566h1v1h-1zM102 558h1v1h-1zM88 578h1v1h-1zM102 568h1v1h-1zM95 569h1v1h-1zM93 571h1v1h-1zM90 573h1v1h-1zM91 583h1v1h-1zM87 575h1v1h-1zM94 577h1v1h-1zM99 564h1v1h-1zM95 564h1v1h-1zM100 571h1v1h-1zM93 565h1v1h-1zM97 563h1v1h-1zM86 575h1v1h-1zM87 576h1v1h-1zM103 561h1v1h-1zM91 570h1v1h-1zM101 564h1v1h-1zM86 579h1v1h-1zM91 569h1v1h-1zM99 560h1v1h-1zM95 575h1v1h-1zM92 571h1v1h-1zM90 568h1v1h-1zM98 573h1v1h-1zM100 568h1v1h-1zM105 563h1v1h-1zM88 575h1v1h-1zM98 560h1v1h-1zM99 557h1v1h-1zM97 578h1v1h-1zM100 575h1v1h-1zM95 568h1v1h-1zM87 577h1v1h-1zM92 567h1v1h-1zM97 577h1v1h-1zM89 576h1v1h-1zM98 563h1v1h-1zM101 565h1v1h-1zM100 576h1v1h-1zM91 577h1v1h-1zM99 562h1v1h-1zM85 578h1v1h-1zM94 573h1v1h-1zM91 574h1v1h-1zM91 576h1v1h-1zM87 578h1v1h-1zM100 572h1v1h-1zM101 567h1v1h-1zM97 570h1v1h-1zM100 573h1v1h-1zM84 578h1v1h-1zM101 568h1v1h-1zM89 581h1v1h-1zM101 570h1v1h-1zM92 574h1v1h-1zM93 572h1v1h-1zM93 567h1v1h-1zM87 574h1v1h-1zM86 577h1v1h-1zM91 579h1v1h-1zM98 574h1v1h-1zM97 561h1v1h-1zM96 571h1v1h-1zM97 572h1v1h-1zM99 580h1v1h-1zM97 575h1v1h-1zM92 564h1v1h-1zM99 568h1v1h-1zM102 564h1v1h-1zM92 581h1v1h-1zM101 558h1v1h-1zM98 570h1v1h-1zM91 575h1v1h-1zM103 572h1v1h-1zM92 565h1v1h-1zM93 563h1v1h-1zM93 562h1v1h-1zM98 562h1v1h-1zM100 560h1v1h-1zM87 582h1v1h-1zM94 564h1v1h-1zM97 568h1v1h-1zM91 581h1v1h-1zM86 568h1v1h-1zM88 584h1v1h-1zM101 562h1v1h-1zM83 579h1v1h-1zM99 570h1v1h-1zM102 570h1v1h-1zM88 579h1v1h-1zM90 571h1v1h-1zM93 582h1v1h-1zM95 576h1v1h-1zM102 562h1v1h-1zM98 575h1v1h-1zM92 577h1v1h-1zM94 580h1v1h-1zM99 563h1v1h-1zM102 560h1v1h-1zM96 585h1v1h-1zM96 563h1v1h-1zM90 585h1v1h-1zM89 574h1v1h-1zM102 566h1v1h-1zM88 580h1v1h-1zM89 572h1v1h-1zM102 561h1v1h-1zM87 583h1v1h-1zM96 579h1v1h-1zM96 560h1v1h-1zM98 578h1v1h-1zM86 573h1v1h-1zM90 582h1v1h-1zM91 566h1v1h-1zM92 582h1v1h-1zM103 563h1v1h-1zM84 583h1v1h-1zM88 570h1v1h-1zM88 571h1v1h-1zM99 561h1v1h-1zM99 559h1v1h-1zM100 566h1v1h-1zM97 582h1v1h-1zM90 584h1v1h-1zM84 570h1v1h-1zM85 585h1v1h-1zM96 578h1v1h-1zM82 585h1v1h-1zM84 581h1v1h-1zM87 588h1v1h-1zM90 586h1v1h-1zM90 590h1v1h-1zM86 586h1v1h-1zM83 576h1v1h-1zM84 586h1v1h-1zM79 569h1v1h-1zM84 577h1v1h-1zM87 586h1v1h-1zM94 584h1v1h-1zM82 579h1v1h-1zM79 577h1v1h-1zM81 586h1v1h-1zM84 576h1v1h-1zM87 587h1v1h-1zM93 586h1v1h-1zM80 575h1v1h-1zM85 576h1v1h-1zM83 584h1v1h-1zM78 567h1v1h-1zM84 573h1v1h-1zM90 587h1v1h-1zM93 584h1v1h-1zM80 580h1v1h-1zM86 582h1v1h-1zM83 580h1v1h-1zM90 557h1v1h-1zM241 563h1v1h-1zM245 557h1v1h-1zM244 556h1v1h-1zM240 558h1v1h-1zM237 563h1v1h-1zM242 553h1v1h-1zM249 556h1v1h-1zM242 560h1v1h-1zM238 557h1v1h-1zM240 552h1v1h-1zM243 552h1v1h-1zM239 557h1v1h-1zM245 554h1v1h-1zM243 557h1v1h-1zM241 562h1v1h-1zM242 558h1v1h-1zM239 561h1v1h-1zM238 558h1v1h-1zM241 556h1v1h-1zM235 560h1v1h-1zM240 563h1v1h-1zM240 556h1v1h-1zM241 565h1v1h-1zM241 557h1v1h-1zM241 549h1v1h-1zM236 564h1v1h-1zM237 557h1v1h-1zM246 557h1v1h-1zM240 545h1v1h-1zM237 553h1v1h-1zM242 557h1v1h-1zM235 570h1v1h-1zM241 559h1v1h-1zM238 565h1v1h-1zM237 556h1v1h-1zM243 556h1v1h-1zM249 564h1v1h-1zM237 560h1v1h-1zM230 554h1v1h-1zM249 558h1v1h-1zM237 552h1v1h-1zM237 548h1v1h-1zM248 544h1v1h-1zM245 552h1v1h-1zM239 559h1v1h-1zM239 555h1v1h-1zM239 553h1v1h-1zM247 561h1v1h-1zM240 564h1v1h-1zM243 562h1v1h-1zM247 549h1v1h-1zM246 554h1v1h-1zM241 558h1v1h-1zM243 567h1v1h-1zM239 558h1v1h-1zM244 554h1v1h-1zM235 551h1v1h-1zM241 560h1v1h-1zM243 553h1v1h-1zM238 552h1v1h-1zM238 556h1v1h-1zM237 566h1v1h-1zM243 548h1v1h-1zM242 563h1v1h-1zM246 565h1v1h-1zM244 557h1v1h-1zM243 571h1v1h-1zM239 545h1v1h-1zM238 561h1v1h-1zM243 554h1v1h-1zM239 564h1v1h-1zM241 561h1v1h-1zM243 549h1v1h-1zM232 568h1v1h-1zM236 561h1v1h-1zM239 566h1v1h-1zM242 564h1v1h-1zM232 559h1v1h-1zM241 573h1v1h-1zM238 560h1v1h-1zM241 552h1v1h-1zM240 560h1v1h-1zM242 562h1v1h-1zM235 554h1v1h-1zM246 560h1v1h-1zM236 554h1v1h-1zM238 564h1v1h-1zM244 566h1v1h-1zM242 555h1v1h-1zM244 563h1v1h-1zM234 566h1v1h-1zM235 553h1v1h-1zM238 553h1v1h-1zM240 549h1v1h-1zM245 564h1v1h-1zM244 558h1v1h-1zM235 558h1v1h-1zM242 568h1v1h-1zM241 555h1v1h-1zM237 559h1v1h-1zM250 563h1v1h-1zM249 554h1v1h-1zM238 548h1v1h-1zM236 570h1v1h-1zM238 551h1v1h-1zM245 553h1v1h-1zM238 568h1v1h-1zM248 564h1v1h-1zM244 574h1v1h-1zM247 565h1v1h-1zM236 542h1v1h-1zM242 546h1v1h-1zM235 549h1v1h-1zM243 564h1v1h-1zM241 553h1v1h-1zM234 565h1v1h-1zM242 551h1v1h-1zM233 554h1v1h-1zM239 550h1v1h-1zM236 556h1v1h-1zM236 548h1v1h-1zM236 550h1v1h-1zM236 557h1v1h-1zM243 558h1v1h-1zM235 559h1v1h-1zM236 559h1v1h-1zM244 562h1v1h-1zM232 552h1v1h-1zM234 550h1v1h-1zM233 560h1v1h-1zM234 570h1v1h-1zM238 567h1v1h-1zM245 548h1v1h-1zM245 577h1v1h-1zM239 554h1v1h-1zM238 547h1v1h-1zM236 558h1v1h-1zM241 568h1v1h-1zM242 552h1v1h-1zM247 556h1v1h-1zM245 551h1v1h-1zM234 551h1v1h-1zM240 561h1v1h-1zM242 547h1v1h-1zM247 571h1v1h-1zM241 548h1v1h-1zM249 559h1v1h-1zM240 551h1v1h-1zM247 557h1v1h-1zM245 549h1v1h-1zM240 550h1v1h-1zM242 549h1v1h-1zM241 544h1v1h-1zM248 550h1v1h-1zM242 573h1v1h-1zM240 557h1v1h-1zM244 561h1v1h-1zM238 555h1v1h-1zM236 566h1v1h-1zM238 550h1v1h-1zM243 563h1v1h-1zM233 572h1v1h-1zM245 562h1v1h-1zM243 544h1v1h-1zM244 559h1v1h-1zM242 571h1v1h-1zM242 550h1v1h-1zM245 556h1v1h-1zM244 551h1v1h-1zM244 552h1v1h-1zM239 562h1v1h-1zM240 565h1v1h-1zM247 548h1v1h-1zM240 559h1v1h-1zM236 560h1v1h-1zM233 570h1v1h-1zM239 567h1v1h-1zM234 559h1v1h-1zM233 561h1v1h-1zM231 566h1v1h-1zM243 573h1v1h-1zM239 563h1v1h-1zM240 555h1v1h-1zM243 551h1v1h-1zM236 573h1v1h-1zM245 561h1v1h-1zM241 567h1v1h-1zM231 562h1v1h-1zM241 554h1v1h-1zM231 561h1v1h-1zM242 578h1v1h-1zM246 556h1v1h-1zM243 568h1v1h-1zM238 559h1v1h-1zM234 558h1v1h-1zM231 556h1v1h-1zM244 564h1v1h-1zM247 555h1v1h-1zM236 567h1v1h-1zM247 558h1v1h-1zM246 569h1v1h-1zM232 564h1v1h-1zM234 556h1v1h-1zM245 565h1v1h-1zM243 559h1v1h-1zM234 553h1v1h-1zM237 564h1v1h-1zM244 560h1v1h-1zM232 557h1v1h-1zM245 569h1v1h-1zM247 564h1v1h-1zM242 548h1v1h-1zM234 552h1v1h-1zM243 555h1v1h-1zM235 568h1v1h-1zM239 552h1v1h-1zM239 548h1v1h-1zM240 566h1v1h-1zM243 561h1v1h-1zM231 565h1v1h-1zM248 560h1v1h-1zM235 561h1v1h-1zM238 554h1v1h-1zM230 569h1v1h-1zM246 573h1v1h-1zM242 576h1v1h-1zM237 555h1v1h-1zM233 563h1v1h-1zM239 560h1v1h-1zM234 560h1v1h-1zM236 569h1v1h-1zM233 567h1v1h-1zM232 572h1v1h-1zM229 554h1v1h-1zM231 584h1v1h-1zM241 569h1v1h-1zM240 568h1v1h-1zM249 557h1v1h-1zM232 558h1v1h-1zM239 576h1v1h-1zM237 562h1v1h-1zM238 571h1v1h-1zM240 573h1v1h-1zM230 572h1v1h-1zM247 570h1v1h-1zM230 566h1v1h-1zM232 562h1v1h-1zM234 568h1v1h-1zM242 567h1v1h-1zM235 585h1v1h-1zM234 584h1v1h-1zM237 572h1v1h-1zM241 574h1v1h-1zM239 575h1v1h-1zM233 569h1v1h-1zM238 566h1v1h-1zM239 568h1v1h-1zM243 578h1v1h-1zM230 571h1v1h-1zM236 572h1v1h-1zM234 569h1v1h-1zM236 579h1v1h-1zM229 586h1v1h-1zM237 571h1v1h-1zM243 570h1v1h-1zM235 569h1v1h-1zM243 577h1v1h-1zM235 565h1v1h-1zM233 571h1v1h-1zM235 567h1v1h-1zM238 570h1v1h-1zM235 579h1v1h-1zM242 577h1v1h-1zM240 569h1v1h-1zM239 572h1v1h-1zM239 573h1v1h-1zM234 573h1v1h-1zM244 581h1v1h-1zM243 575h1v1h-1zM229 569h1v1h-1zM232 582h1v1h-1zM236 583h1v1h-1zM236 578h1v1h-1zM228 574h1v1h-1zM237 575h1v1h-1zM233 568h1v1h-1zM241 572h1v1h-1zM227 570h1v1h-1zM244 568h1v1h-1zM245 580h1v1h-1zM238 574h1v1h-1zM240 574h1v1h-1zM235 573h1v1h-1zM231 570h1v1h-1zM234 581h1v1h-1zM230 576h1v1h-1zM232 563h1v1h-1zM236 574h1v1h-1zM236 581h1v1h-1zM241 575h1v1h-1zM232 574h1v1h-1zM243 581h1v1h-1zM239 578h1v1h-1zM231 578h1v1h-1zM241 570h1v1h-1zM238 569h1v1h-1zM234 567h1v1h-1zM246 576h1v1h-1zM242 575h1v1h-1zM244 577h1v1h-1zM242 581h1v1h-1zM237 579h1v1h-1zM242 579h1v1h-1zM236 576h1v1h-1zM237 574h1v1h-1zM239 582h1v1h-1zM237 578h1v1h-1zM228 576h1v1h-1zM243 574h1v1h-1zM228 578h1v1h-1zM237 576h1v1h-1zM233 580h1v1h-1zM229 567h1v1h-1zM246 575h1v1h-1zM249 571h1v1h-1zM236 565h1v1h-1zM238 583h1v1h-1zM238 585h1v1h-1zM236 580h1v1h-1zM235 566h1v1h-1zM238 573h1v1h-1zM234 571h1v1h-1zM237 573h1v1h-1zM232 570h1v1h-1zM242 590h1v1h-1zM240 575h1v1h-1zM234 574h1v1h-1zM231 558h1v1h-1zM239 577h1v1h-1zM232 573h1v1h-1zM230 565h1v1h-1zM221 575h1v1h-1zM241 576h1v1h-1zM240 589h1v1h-1zM235 580h1v1h-1zM235 582h1v1h-1zM237 570h1v1h-1zM229 573h1v1h-1zM241 584h1v1h-1zM241 571h1v1h-1zM241 580h1v1h-1zM232 577h1v1h-1zM232 578h1v1h-1zM232 569h1v1h-1zM238 581h1v1h-1zM244 576h1v1h-1zM238 579h1v1h-1zM234 578h1v1h-1zM239 579h1v1h-1zM235 574h1v1h-1zM244 579h1v1h-1zM237 569h1v1h-1zM232 571h1v1h-1zM234 572h1v1h-1zM247 572h1v1h-1zM236 568h1v1h-1zM235 589h1v1h-1zM241 577h1v1h-1zM240 571h1v1h-1zM232 567h1v1h-1zM227 575h1v1h-1zM234 589h1v1h-1zM233 578h1v1h-1zM232 584h1v1h-1zM230 575h1v1h-1zM239 571h1v1h-1zM233 564h1v1h-1zM233 575h1v1h-1zM242 580h1v1h-1zM234 580h1v1h-1zM236 571h1v1h-1zM237 561h1v1h-1zM228 571h1v1h-1zM234 582h1v1h-1zM223 570h1v1h-1zM225 559h1v1h-1zM240 570h1v1h-1zM225 569h1v1h-1zM225 580h1v1h-1zM226 565h1v1h-1zM229 582h1v1h-1zM223 569h1v1h-1zM225 584h1v1h-1zM226 579h1v1h-1zM220 566h1v1h-1zM230 590h1v1h-1zM235 587h1v1h-1zM229 564h1v1h-1zM227 577h1v1h-1zM465 560h1v1h-1zM463 561h1v1h-1zM474 566h1v1h-1zM467 577h1v1h-1zM469 575h1v1h-1zM461 571h1v1h-1zM463 569h1v1h-1zM467 564h1v1h-1zM466 564h1v1h-1zM461 565h1v1h-1zM465 564h1v1h-1zM468 565h1v1h-1zM471 577h1v1h-1zM458 568h1v1h-1zM460 572h1v1h-1zM472 575h1v1h-1zM465 576h1v1h-1zM474 574h1v1h-1zM469 566h1v1h-1zM471 565h1v1h-1zM469 570h1v1h-1zM474 569h1v1h-1zM467 569h1v1h-1zM469 577h1v1h-1zM472 567h1v1h-1zM469 579h1v1h-1zM470 573h1v1h-1zM464 573h1v1h-1zM468 568h1v1h-1zM466 569h1v1h-1zM466 577h1v1h-1zM468 569h1v1h-1zM474 565h1v1h-1zM463 575h1v1h-1zM463 571h1v1h-1zM469 562h1v1h-1zM469 578h1v1h-1zM470 572h1v1h-1zM470 583h1v1h-1zM467 566h1v1h-1zM464 574h1v1h-1zM468 575h1v1h-1zM470 565h1v1h-1zM466 574h1v1h-1zM465 574h1v1h-1zM469 565h1v1h-1zM466 579h1v1h-1zM465 572h1v1h-1zM461 567h1v1h-1zM465 578h1v1h-1zM471 571h1v1h-1zM467 571h1v1h-1zM472 572h1v1h-1zM465 567h1v1h-1zM463 577h1v1h-1zM470 574h1v1h-1zM466 567h1v1h-1zM468 572h1v1h-1zM466 563h1v1h-1zM473 574h1v1h-1zM468 571h1v1h-1zM466 562h1v1h-1zM466 566h1v1h-1zM470 570h1v1h-1zM465 571h1v1h-1zM469 564h1v1h-1zM463 566h1v1h-1zM464 578h1v1h-1zM470 579h1v1h-1zM471 572h1v1h-1zM470 571h1v1h-1zM473 567h1v1h-1zM458 577h1v1h-1zM463 573h1v1h-1zM470 567h1v1h-1zM473 564h1v1h-1zM466 565h1v1h-1zM466 571h1v1h-1zM468 578h1v1h-1zM470 569h1v1h-1zM463 568h1v1h-1zM472 576h1v1h-1zM465 577h1v1h-1zM475 574h1v1h-1zM467 568h1v1h-1zM468 566h1v1h-1zM469 574h1v1h-1zM465 562h1v1h-1zM472 573h1v1h-1zM459 570h1v1h-1zM473 569h1v1h-1zM464 563h1v1h-1zM469 563h1v1h-1zM472 566h1v1h-1zM469 568h1v1h-1zM464 568h1v1h-1zM461 575h1v1h-1zM468 574h1v1h-1zM461 576h1v1h-1zM460 573h1v1h-1zM466 570h1v1h-1zM464 569h1v1h-1zM475 572h1v1h-1zM467 574h1v1h-1zM469 571h1v1h-1zM462 579h1v1h-1zM468 559h1v1h-1zM465 565h1v1h-1zM464 572h1v1h-1zM465 579h1v1h-1zM467 565h1v1h-1zM465 569h1v1h-1zM466 576h1v1h-1zM457 570h1v1h-1zM471 581h1v1h-1zM461 568h1v1h-1zM472 570h1v1h-1zM468 577h1v1h-1zM462 578h1v1h-1zM462 570h1v1h-1zM477 566h1v1h-1zM462 566h1v1h-1zM466 578h1v1h-1zM469 572h1v1h-1zM467 576h1v1h-1zM473 575h1v1h-1zM473 562h1v1h-1zM462 565h1v1h-1zM467 563h1v1h-1zM463 574h1v1h-1zM474 579h1v1h-1zM465 575h1v1h-1zM467 570h1v1h-1zM465 568h1v1h-1zM456 572h1v1h-1zM462 577h1v1h-1zM475 561h1v1h-1zM460 571h1v1h-1zM462 575h1v1h-1zM475 570h1v1h-1zM470 576h1v1h-1zM471 570h1v1h-1zM466 575h1v1h-1zM469 569h1v1h-1zM470 575h1v1h-1zM462 572h1v1h-1zM471 579h1v1h-1zM461 573h1v1h-1zM469 567h1v1h-1zM470 568h1v1h-1zM472 564h1v1h-1zM464 570h1v1h-1zM460 565h1v1h-1zM464 576h1v1h-1zM477 567h1v1h-1zM478 569h1v1h-1zM472 574h1v1h-1zM464 571h1v1h-1zM466 572h1v1h-1zM465 570h1v1h-1zM468 567h1v1h-1zM463 565h1v1h-1zM458 571h1v1h-1zM467 575h1v1h-1zM455 567h1v1h-1zM474 573h1v1h-1zM472 568h1v1h-1zM471 566h1v1h-1zM474 570h1v1h-1zM463 570h1v1h-1zM465 573h1v1h-1zM460 567h1v1h-1zM475 571h1v1h-1zM475 562h1v1h-1zM464 565h1v1h-1zM463 576h1v1h-1zM461 574h1v1h-1zM463 567h1v1h-1zM470 566h1v1h-1zM474 575h1v1h-1zM459 571h1v1h-1zM472 569h1v1h-1zM468 579h1v1h-1zM471 569h1v1h-1zM471 576h1v1h-1zM465 582h1v1h-1zM467 573h1v1h-1zM461 572h1v1h-1zM465 581h1v1h-1zM460 570h1v1h-1zM478 574h1v1h-1zM462 576h1v1h-1zM472 563h1v1h-1zM468 576h1v1h-1zM467 572h1v1h-1zM474 568h1v1h-1zM469 576h1v1h-1zM466 573h1v1h-1zM464 562h1v1h-1zM459 574h1v1h-1zM461 562h1v1h-1zM459 575h1v1h-1zM473 571h1v1h-1zM477 574h1v1h-1zM470 563h1v1h-1zM464 566h1v1h-1zM473 576h1v1h-1zM455 577h1v1h-1zM459 573h1v1h-1zM462 573h1v1h-1zM473 568h1v1h-1zM466 568h1v1h-1zM475 575h1v1h-1zM465 566h1v1h-1zM460 569h1v1h-1zM455 570h1v1h-1zM467 567h1v1h-1zM463 572h1v1h-1zM468 570h1v1h-1zM460 576h1v1h-1zM471 564h1v1h-1zM461 570h1v1h-1zM477 568h1v1h-1zM464 567h1v1h-1zM456 574h1v1h-1zM458 569h1v1h-1zM471 573h1v1h-1zM471 567h1v1h-1zM459 567h1v1h-1zM469 573h1v1h-1zM455 565h1v1h-1zM477 563h1v1h-1zM457 568h1v1h-1zM453 567h1v1h-1zM461 569h1v1h-1zM460 575h1v1h-1zM470 577h1v1h-1zM456 573h1v1h-1zM404 575h1v1h-1zM402 576h1v1h-1zM451 566h1v1h-1zM437 568h1v1h-1zM437 581h1v1h-1zM443 589h1v1h-1zM446 575h1v1h-1zM446 571h1v1h-1zM447 567h1v1h-1zM455 574h1v1h-1zM452 568h1v1h-1zM457 577h1v1h-1zM441 572h1v1h-1zM416 581h1v1h-1zM428 576h1v1h-1zM457 573h1v1h-1zM433 572h1v1h-1zM406 577h1v1h-1zM438 582h1v1h-1zM431 571h1v1h-1zM458 578h1v1h-1zM393 577h1v1h-1zM453 579h1v1h-1zM453 578h1v1h-1zM398 582h1v1h-1zM456 575h1v1h-1zM443 571h1v1h-1zM451 577h1v1h-1zM417 582h1v1h-1zM409 573h1v1h-1zM399 572h1v1h-1zM399 574h1v1h-1zM416 585h1v1h-1zM405 575h1v1h-1zM441 579h1v1h-1zM445 566h1v1h-1zM449 579h1v1h-1zM433 566h1v1h-1zM424 575h1v1h-1zM404 577h1v1h-1zM440 576h1v1h-1zM430 577h1v1h-1zM453 571h1v1h-1zM422 577h1v1h-1zM411 576h1v1h-1zM419 579h1v1h-1zM457 571h1v1h-1zM429 584h1v1h-1zM427 579h1v1h-1zM444 568h1v1h-1zM447 570h1v1h-1zM452 564h1v1h-1zM430 581h1v1h-1zM443 576h1v1h-1zM435 579h1v1h-1zM448 582h1v1h-1zM396 570h1v1h-1zM436 572h1v1h-1zM393 570h1v1h-1zM424 578h1v1h-1z" fill="#0a0a0a" fill-opacity="0.95"/>
<line x1="103.60" y1="467.50" x2="103.60" y2="602.50" stroke="#353d60" stroke-width="1.4"/>
<line x1="56.00" y1="560.30" x2="198.60" y2="560.30" stroke="#353d60" stroke-width="1.4"/>
<rect x="56.00" y="467.2" width="142.60" height="136.2" fill="none" stroke="#111" stroke-width="1.7"/>
<text transform="translate(127.50 459.90) scale(0.975 1)" font-size="12.4" text-anchor="middle" fill="#111">Plasma NAD</text>
<text transform="translate(59.06 476.20)" font-size="10.2" fill="#111">7.22</text>
<text transform="translate(194.20 476.20)" font-size="10.2" text-anchor="end" fill="#111">2.21</text>
<text transform="translate(58.87 600.50)" font-size="10.2" fill="#111">88.1</text>
<text transform="translate(195.55 600.50)" font-size="10.2" text-anchor="end" fill="#111">2.46</text>
<line x1="255.20" y1="467.50" x2="255.20" y2="602.50" stroke="#353d60" stroke-width="1.4"/>
<line x1="207.80" y1="560.60" x2="350.40" y2="560.60" stroke="#353d60" stroke-width="1.4"/>
<rect x="207.80" y="467.2" width="142.60" height="136.2" fill="none" stroke="#111" stroke-width="1.7"/>
<text transform="translate(278.50 459.90) scale(0.975 1)" font-size="12.4" text-anchor="middle" fill="#111">Plasma AD</text>
<text transform="translate(210.52 476.30)" font-size="10.2" fill="#111">35.2</text>
<text transform="translate(348.12 476.30)" font-size="10.2" text-anchor="end" fill="#111">0.75</text>
<text transform="translate(210.39 600.60)" font-size="10.2" fill="#111">63.8</text>
<text transform="translate(347.87 600.60)" font-size="10.2" text-anchor="end" fill="#111">0.29</text>
<line x1="404.50" y1="467.50" x2="404.50" y2="602.50" stroke="#353d60" stroke-width="1.4"/>
<line x1="358.10" y1="561.00" x2="500.40" y2="561.00" stroke="#353d60" stroke-width="1.4"/>
<rect x="358.10" y="467.2" width="142.30" height="136.2" fill="none" stroke="#111" stroke-width="1.7"/>
<text transform="translate(427.65 459.90) scale(0.975 1)" font-size="12.4" text-anchor="middle" fill="#111">GM-CSF + IL-4 + TGFβ</text>
<text transform="translate(360.49 476.30)" font-size="10.2" fill="#111">0.15</text>
<text transform="translate(494.49 476.30)" font-size="10.2" text-anchor="end" fill="#111">5.1</text>
<text transform="translate(360.49 600.60)" font-size="10.2" fill="#111">5.86</text>
<text transform="translate(498.17 600.60)" font-size="10.2" text-anchor="end" fill="#111">88.9</text>
<line x1="87.30" y1="668.30" x2="87.30" y2="809.00" stroke="#111" stroke-width="2.0"/>
<line x1="82.50" y1="808.00" x2="87.30" y2="808.00" stroke="#111" stroke-width="1.6"/>
<text transform="translate(78.00 812.16)" font-size="12.1" text-anchor="end" fill="#111">0</text>
<line x1="82.50" y1="780.92" x2="87.30" y2="780.92" stroke="#111" stroke-width="1.6"/>
<text transform="translate(78.00 785.08)" font-size="12.1" text-anchor="end" fill="#111">10</text>
<line x1="82.50" y1="753.84" x2="87.30" y2="753.84" stroke="#111" stroke-width="1.6"/>
<text transform="translate(78.00 758.00)" font-size="12.1" text-anchor="end" fill="#111">20</text>
<line x1="82.50" y1="726.76" x2="87.30" y2="726.76" stroke="#111" stroke-width="1.6"/>
<text transform="translate(78.00 730.92)" font-size="12.1" text-anchor="end" fill="#111">30</text>
<line x1="82.50" y1="699.68" x2="87.30" y2="699.68" stroke="#111" stroke-width="1.6"/>
<text transform="translate(78.00 703.84)" font-size="12.1" text-anchor="end" fill="#111">40</text>
<line x1="82.50" y1="672.60" x2="87.30" y2="672.60" stroke="#111" stroke-width="1.6"/>
<text transform="translate(78.00 676.76)" font-size="12.1" text-anchor="end" fill="#111">50</text>
<line x1="86.30" y1="808.00" x2="299.20" y2="808.00" stroke="#111" stroke-width="2.0"/>
<line x1="113.60" y1="808.00" x2="113.60" y2="812.90" stroke="#111" stroke-width="1.6"/>
<text transform="translate(113.60 828.20) scale(1.050 1)" font-size="12.3" text-anchor="middle" fill="#111">0</text>
<line x1="166.70" y1="808.00" x2="166.70" y2="812.90" stroke="#111" stroke-width="1.6"/>
<text transform="translate(166.70 828.20) scale(1.050 1)" font-size="12.3" text-anchor="middle" fill="#111">4</text>
<line x1="219.80" y1="808.00" x2="219.80" y2="812.90" stroke="#111" stroke-width="1.6"/>
<text transform="translate(219.80 828.20) scale(1.050 1)" font-size="12.3" text-anchor="middle" fill="#111">7</text>
<line x1="272.90" y1="808.00" x2="272.90" y2="812.90" stroke="#111" stroke-width="1.6"/>
<text transform="translate(272.90 828.20) scale(1.050 1)" font-size="12.3" text-anchor="middle" fill="#111">10</text>
<text transform="translate(149.23 847.90) scale(0.910 1)" font-size="14.4" fill="#111">Days of culture</text>
<text transform="translate(38.20 738.00) rotate(-90) scale(0.895 1)" font-size="14.5" text-anchor="middle" fill="#111">% of CD207<tspan font-size="11" dy="-4.5">+</tspan></text>
<text transform="translate(55.60 737.80) rotate(-90) scale(0.918 1)" font-size="14.5" text-anchor="middle" fill="#111">in CD11b<tspan font-size="10.5" dy="-5.5">low</tspan><tspan dy="5.5">CD11c</tspan><tspan font-size="11" dy="-4.5">+</tspan><tspan dy="4.5"> cells</tspan></text>
<line x1="166.70" y1="782.00" x2="166.70" y2="775.23" stroke="#111" stroke-width="1.7"/>
<line x1="163.40" y1="782.00" x2="170.00" y2="782.00" stroke="#111" stroke-width="1.7"/>
<line x1="163.40" y1="775.23" x2="170.00" y2="775.23" stroke="#111" stroke-width="1.7"/>
<line x1="219.80" y1="745.99" x2="219.80" y2="718.09" stroke="#111" stroke-width="1.7"/>
<line x1="216.50" y1="745.99" x2="223.10" y2="745.99" stroke="#111" stroke-width="1.7"/>
<line x1="216.50" y1="718.09" x2="223.10" y2="718.09" stroke="#111" stroke-width="1.7"/>
<line x1="272.90" y1="721.89" x2="272.90" y2="692.91" stroke="#111" stroke-width="1.7"/>
<line x1="269.60" y1="721.89" x2="276.20" y2="721.89" stroke="#111" stroke-width="1.7"/>
<line x1="269.60" y1="692.91" x2="276.20" y2="692.91" stroke="#111" stroke-width="1.7"/>
<line x1="219.80" y1="758.44" x2="219.80" y2="745.99" stroke="#111" stroke-width="1.7"/>
<line x1="216.50" y1="758.44" x2="223.10" y2="758.44" stroke="#111" stroke-width="1.7"/>
<line x1="216.50" y1="745.99" x2="223.10" y2="745.99" stroke="#111" stroke-width="1.7"/>
<line x1="272.90" y1="782.82" x2="272.90" y2="773.07" stroke="#111" stroke-width="1.7"/>
<line x1="269.60" y1="782.82" x2="276.20" y2="782.82" stroke="#111" stroke-width="1.7"/>
<line x1="269.60" y1="773.07" x2="276.20" y2="773.07" stroke="#111" stroke-width="1.7"/>
<polyline points="113.60,805.02 166.70,740.84 219.80,787.96 272.90,795.00" fill="none" stroke="#472359" stroke-width="2.5" stroke-linejoin="round"/>
<polyline points="113.60,805.02 166.70,783.63 219.80,751.67 272.90,777.67" fill="none" stroke="#263a62" stroke-width="2.5" stroke-linejoin="round"/>
<polyline points="113.60,805.02 166.70,778.48 219.80,735.43 272.90,707.26" fill="none" stroke="#6aaa4c" stroke-width="2.5" stroke-linejoin="round"/>
<circle cx="113.60" cy="805.02" r="2.6" fill="#fff" stroke="#263a62" stroke-width="1.7"/>
<circle cx="166.70" cy="783.63" r="2.6" fill="#fff" stroke="#263a62" stroke-width="1.7"/>
<circle cx="219.80" cy="751.67" r="2.6" fill="#fff" stroke="#263a62" stroke-width="1.7"/>
<circle cx="272.90" cy="777.67" r="2.6" fill="#fff" stroke="#263a62" stroke-width="1.7"/>
<circle cx="113.60" cy="805.02" r="2.9" fill="#6aaa4c" stroke="none" stroke-width="0"/>
<circle cx="166.70" cy="778.48" r="2.9" fill="#6aaa4c" stroke="none" stroke-width="0"/>
<circle cx="219.80" cy="735.43" r="2.9" fill="#6aaa4c" stroke="none" stroke-width="0"/>
<circle cx="272.90" cy="707.26" r="2.9" fill="#6aaa4c" stroke="none" stroke-width="0"/>
<rect x="111.30" y="802.72" width="4.6" height="4.6" fill="#fff" stroke="#472359" stroke-width="2"/>
<rect x="164.40" y="738.54" width="4.6" height="4.6" fill="#fff" stroke="#472359" stroke-width="2"/>
<rect x="217.50" y="785.66" width="4.6" height="4.6" fill="#fff" stroke="#472359" stroke-width="2"/>
<rect x="270.60" y="792.70" width="4.6" height="4.6" fill="#fff" stroke="#472359" stroke-width="2"/>
<line x1="92.20" y1="671.50" x2="110.60" y2="671.50" stroke="#263a62" stroke-width="2.3"/>
<circle cx="101.40" cy="671.50" r="2.6" fill="#fff" stroke="#263a62" stroke-width="1.7"/>
<text transform="translate(115.30 675.30)" font-size="11.5" fill="#111">NAD</text>
<line x1="92.20" y1="688.90" x2="110.60" y2="688.90" stroke="#6aaa4c" stroke-width="2.3"/>
<circle cx="101.40" cy="688.90" r="2.8" fill="#6aaa4c" stroke="none" stroke-width="0"/>
<text transform="translate(115.30 692.60)" font-size="11.5" fill="#111">AD</text>
<line x1="92.20" y1="706.70" x2="110.60" y2="706.70" stroke="#472359" stroke-width="2.3"/>
<rect x="99.10" y="704.40" width="4.6" height="4.6" fill="#fff" stroke="#472359" stroke-width="2"/>
<text transform="translate(115.30 709.90)" font-size="11.5" fill="#111">GMCSF+IL4+TGFβ</text>
<rect x="1" y="1" width="518" height="861" fill="none" stroke="#000" stroke-width="2"/>
</svg>
</body></html>
